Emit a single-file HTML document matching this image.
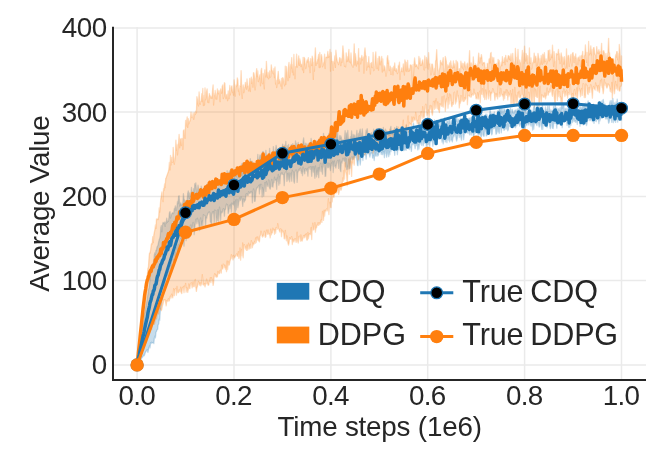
<!DOCTYPE html>
<html><head><meta charset="utf-8"><title>Average Value</title>
<style>
html,body{margin:0;padding:0;background:#fff;}
svg{display:block;}
text{font-family:"Liberation Sans",Arial,Helvetica,sans-serif;fill:#262626;}
.tick{font-size:27.78px;}
.lab{font-size:27.78px;}
.leg{font-size:30.56px;}
</style></head><body>
<svg width="646" height="456" viewBox="0 0 646 456">
<rect width="646" height="456" fill="#fff"/>
<defs><clipPath id="c"><rect x="113" y="27" width="533" height="352"/></clipPath></defs>

<g stroke="#eaeaea" stroke-width="1.5" fill="none">
<path d="M113,364.9H646"/>
<path d="M113,280.6H646"/>
<path d="M113,196.4H646"/>
<path d="M113,112.1H646"/>
<path d="M113,27.9H646"/>
<path d="M137.1,27V379"/>
<path d="M234.0,27V379"/>
<path d="M330.9,27V379"/>
<path d="M427.7,27V379"/>
<path d="M524.6,27V379"/>
<path d="M621.5,27V379"/>
</g>
<g clip-path="url(#c)" stroke-linejoin="round">
<path d="M137.1,364.9L137.6,361.3L138.2,357.8L138.7,354.4L139.3,350.9L139.8,347.0L140.3,343.8L140.9,339.2L141.4,336.2L141.9,332.6L142.5,329.9L143.0,325.9L143.6,321.5L144.1,319.4L144.6,313.6L145.2,311.7L145.7,307.4L146.3,304.8L146.8,301.5L147.3,297.8L147.9,294.8L148.4,290.0L149.0,287.9L149.5,284.2L150.0,278.6L150.6,274.2L151.1,270.7L151.6,271.2L152.2,265.1L152.7,265.7L153.3,263.1L153.8,260.2L154.3,255.2L154.9,252.7L155.4,254.7L156.0,250.1L156.5,250.1L157.0,247.0L157.6,246.0L158.1,244.8L158.7,241.7L159.2,239.7L159.7,238.6L160.3,235.3L160.8,227.5L161.3,225.6L161.9,231.8L162.4,225.7L163.0,222.5L163.5,222.8L164.0,223.5L164.6,222.1L165.1,226.3L165.7,222.1L166.2,223.5L166.7,218.2L167.3,222.3L167.8,221.1L168.4,221.4L168.9,218.2L169.4,213.1L170.0,211.6L170.5,218.0L171.0,216.1L171.6,214.4L172.1,213.2L172.7,212.7L173.2,213.6L173.7,213.5L174.3,208.8L174.8,208.4L175.4,205.9L175.9,210.4L176.4,209.8L177.0,206.3L177.5,201.4L178.1,203.6L178.6,196.3L179.1,195.7L179.7,206.0L180.2,203.6L180.7,202.9L181.3,205.7L181.8,204.3L182.4,204.4L182.9,202.2L183.4,193.7L184.0,199.1L184.5,200.3L185.1,202.3L185.6,202.2L186.1,200.5L186.7,202.2L187.2,199.5L187.7,193.5L188.3,191.0L188.8,195.8L189.4,198.4L189.9,192.9L190.4,196.7L191.0,193.9L191.5,187.3L192.1,194.6L192.6,195.4L193.1,194.7L193.7,188.7L194.2,194.3L194.8,183.7L195.3,185.4L195.8,182.8L196.4,190.1L196.9,193.2L197.4,192.9L198.0,185.2L198.5,189.2L199.1,192.5L199.6,192.1L200.1,189.5L200.7,192.5L201.2,186.1L201.8,189.1L202.3,192.3L202.8,190.7L203.4,188.1L203.9,189.4L204.5,190.2L205.0,190.1L205.5,186.7L206.1,191.1L206.6,184.3L207.1,184.9L207.7,190.4L208.2,183.1L208.8,188.6L209.3,187.3L209.8,184.9L210.4,189.9L210.9,185.1L211.5,184.0L212.0,186.9L212.5,188.3L213.1,186.8L213.6,188.2L214.2,188.2L214.7,185.8L215.2,187.1L215.8,187.4L216.3,185.6L216.8,182.2L217.4,183.6L217.9,182.9L218.5,184.7L219.0,182.3L219.5,180.4L220.1,185.1L220.6,184.0L221.2,183.6L221.7,180.1L222.2,181.4L222.8,182.7L223.3,181.8L223.9,182.9L224.4,178.1L224.9,182.5L225.5,179.4L226.0,181.7L226.5,182.5L227.1,170.7L227.6,176.8L228.2,173.4L228.7,181.6L229.2,171.8L229.8,170.7L230.3,180.0L230.9,169.3L231.4,180.7L231.9,174.4L232.5,179.1L233.0,179.2L233.5,178.8L234.1,177.3L234.6,171.2L235.2,175.0L235.7,176.6L236.2,173.9L236.8,174.5L237.3,178.0L237.9,177.5L238.4,172.9L238.9,177.4L239.5,176.8L240.0,174.3L240.6,170.8L241.1,175.3L241.6,163.8L242.2,175.2L242.7,163.2L243.2,173.8L243.8,165.1L244.3,173.9L244.9,168.4L245.4,167.9L245.9,165.6L246.5,171.2L247.0,170.3L247.6,169.6L248.1,171.1L248.6,169.8L249.2,168.4L249.7,168.1L250.3,158.7L250.8,168.5L251.3,161.1L251.9,165.5L252.4,161.4L252.9,164.8L253.5,168.6L254.0,168.2L254.6,167.4L255.1,163.5L255.6,166.3L256.2,167.1L256.7,164.8L257.3,166.5L257.8,154.3L258.3,165.3L258.9,165.5L259.4,158.5L260.0,154.9L260.5,155.4L261.0,160.7L261.6,154.4L262.1,153.6L262.6,151.9L263.2,151.6L263.7,162.6L264.3,157.1L264.8,162.2L265.3,160.8L265.9,150.3L266.4,155.8L267.0,158.6L267.5,161.0L268.0,159.7L268.6,159.3L269.1,159.8L269.6,148.4L270.2,159.5L270.7,157.0L271.3,158.2L271.8,154.2L272.3,157.3L272.9,156.6L273.4,146.6L274.0,154.1L274.5,152.0L275.0,156.7L275.6,150.2L276.1,145.3L276.7,150.3L277.2,153.3L277.7,149.4L278.3,154.6L278.8,153.6L279.3,148.5L279.9,155.5L280.4,153.1L281.0,152.9L281.5,150.6L282.0,153.0L282.6,144.2L283.1,145.9L283.7,152.8L284.2,152.2L284.7,145.2L285.3,152.6L285.8,141.4L286.4,150.6L286.9,150.4L287.4,145.6L288.0,150.1L288.5,144.4L289.0,149.5L289.6,150.9L290.1,148.0L290.7,149.5L291.2,144.8L291.7,144.7L292.3,147.4L292.8,143.6L293.4,151.3L293.9,147.5L294.4,147.8L295.0,150.5L295.5,140.8L296.1,148.1L296.6,143.4L297.1,149.3L297.7,149.8L298.2,142.4L298.7,148.9L299.3,145.6L299.8,147.4L300.4,146.7L300.9,144.3L301.4,147.9L302.0,146.3L302.5,149.3L303.1,142.1L303.6,138.0L304.1,143.7L304.7,148.2L305.2,146.7L305.8,143.1L306.3,148.2L306.8,144.1L307.4,146.8L307.9,146.1L308.4,143.5L309.0,144.5L309.5,147.5L310.1,146.9L310.6,145.8L311.1,138.5L311.7,145.6L312.2,145.4L312.8,145.1L313.3,147.1L313.8,144.4L314.4,141.5L314.9,141.3L315.4,143.9L316.0,145.6L316.5,140.9L317.1,143.0L317.6,143.1L318.1,140.4L318.7,144.8L319.2,139.2L319.8,142.3L320.3,142.4L320.8,143.0L321.4,145.3L321.9,140.6L322.5,144.5L323.0,142.3L323.5,133.4L324.1,143.0L324.6,138.8L325.1,144.7L325.7,140.9L326.2,138.8L326.8,142.9L327.3,138.8L327.8,141.1L328.4,144.0L328.9,133.3L329.5,137.9L330.0,143.3L330.5,143.7L331.1,138.3L331.6,143.7L332.2,135.7L332.7,143.0L333.2,143.4L333.8,142.5L334.3,143.1L334.8,142.2L335.4,139.2L335.9,137.8L336.5,131.5L337.0,138.2L337.5,131.4L338.1,139.9L338.6,142.0L339.2,142.7L339.7,135.5L340.2,138.8L340.8,136.0L341.3,137.4L341.9,142.2L342.4,139.8L342.9,141.7L343.5,139.9L344.0,140.0L344.5,140.1L345.1,130.6L345.6,141.2L346.2,134.4L346.7,132.9L347.2,140.7L347.8,130.3L348.3,138.0L348.9,138.9L349.4,140.5L349.9,140.8L350.5,136.6L351.0,140.2L351.6,131.0L352.1,138.4L352.6,137.1L353.2,134.4L353.7,136.7L354.2,138.0L354.8,134.8L355.3,137.9L355.9,138.9L356.4,137.3L356.9,130.5L357.5,138.9L358.0,137.1L358.6,133.5L359.1,138.8L359.6,131.6L360.2,129.2L360.7,138.1L361.2,137.0L361.8,133.7L362.3,129.0L362.9,137.6L363.4,136.4L363.9,138.0L364.5,138.6L365.0,135.9L365.6,135.9L366.1,130.1L366.6,132.2L367.2,128.7L367.7,133.4L368.3,135.9L368.8,137.7L369.3,137.9L369.9,136.0L370.4,133.7L370.9,134.5L371.5,132.7L372.0,135.7L372.6,135.0L373.1,135.6L373.6,129.2L374.2,133.6L374.7,137.0L375.3,136.9L375.8,137.1L376.3,134.3L376.9,128.7L377.4,136.5L378.0,133.8L378.5,128.9L379.0,136.3L379.6,136.1L380.1,135.8L380.6,136.2L381.2,135.4L381.7,134.5L382.3,130.9L382.8,134.9L383.3,127.3L383.9,134.7L384.4,133.9L385.0,131.8L385.5,129.2L386.0,133.7L386.6,130.9L387.1,134.1L387.7,134.0L388.2,134.6L388.7,134.5L389.3,135.1L389.8,133.1L390.3,129.1L390.9,126.4L391.4,133.6L392.0,134.5L392.5,131.5L393.0,130.8L393.6,134.7L394.1,133.8L394.7,127.7L395.2,132.7L395.7,133.9L396.3,132.6L396.8,126.3L397.4,133.8L397.9,132.6L398.4,130.3L399.0,132.6L399.5,132.2L400.0,128.9L400.6,130.7L401.1,132.5L401.7,133.4L402.2,131.6L402.7,130.7L403.3,130.7L403.8,128.5L404.4,131.0L404.9,130.7L405.4,131.9L406.0,131.0L406.5,125.2L407.0,132.6L407.6,130.0L408.1,131.4L408.7,130.2L409.2,132.4L409.7,129.2L410.3,132.6L410.8,128.1L411.4,130.9L411.9,132.3L412.4,132.0L413.0,125.7L413.5,123.5L414.1,128.3L414.6,130.8L415.1,130.4L415.7,131.3L416.2,128.1L416.7,128.6L417.3,131.6L417.8,131.3L418.4,128.6L418.9,122.7L419.4,130.3L420.0,131.2L420.5,130.6L421.1,126.9L421.6,130.8L422.1,129.4L422.7,128.9L423.2,128.2L423.8,130.4L424.3,129.0L424.8,129.8L425.4,129.5L425.9,123.1L426.4,121.7L427.0,122.8L427.5,121.5L428.1,123.9L428.6,127.1L429.1,128.1L429.7,125.6L430.2,125.8L430.8,122.7L431.3,128.6L431.8,120.6L432.4,128.3L432.9,123.7L433.5,123.8L434.0,125.3L434.5,120.0L435.1,126.5L435.6,128.5L436.1,122.7L436.7,123.6L437.2,120.2L437.8,128.0L438.3,125.5L438.8,127.4L439.4,120.9L439.9,126.5L440.5,126.8L441.0,118.6L441.5,127.0L442.1,121.8L442.6,119.9L443.2,119.4L443.7,126.7L444.2,123.7L444.8,117.7L445.3,126.2L445.8,125.8L446.4,125.2L446.9,121.2L447.5,121.3L448.0,122.9L448.5,123.7L449.1,118.5L449.6,121.5L450.2,125.2L450.7,124.4L451.2,120.1L451.8,124.9L452.3,122.8L452.8,124.5L453.4,124.6L453.9,122.8L454.5,121.9L455.0,123.2L455.5,122.1L456.1,120.5L456.6,115.3L457.2,121.5L457.7,121.9L458.2,119.1L458.8,122.9L459.3,122.6L459.9,122.0L460.4,118.2L460.9,121.0L461.5,120.0L462.0,121.6L462.5,122.4L463.1,118.4L463.6,117.7L464.2,121.8L464.7,121.0L465.2,113.9L465.8,120.9L466.3,119.8L466.9,122.0L467.4,120.8L467.9,118.6L468.5,121.9L469.0,118.2L469.6,118.1L470.1,121.6L470.6,118.4L471.2,117.4L471.7,121.5L472.2,121.1L472.8,120.2L473.3,117.0L473.9,119.4L474.4,119.8L474.9,120.9L475.5,119.5L476.0,117.0L476.6,119.2L477.1,120.6L477.6,116.1L478.2,116.0L478.7,118.4L479.3,119.6L479.8,115.2L480.3,117.1L480.9,114.1L481.4,117.3L481.9,113.9L482.5,119.6L483.0,116.6L483.6,118.8L484.1,115.5L484.6,118.6L485.2,115.9L485.7,114.1L486.3,117.2L486.8,114.2L487.3,116.7L487.9,118.6L488.4,117.5L489.0,116.1L489.5,116.4L490.0,109.7L490.6,112.1L491.1,116.7L491.6,113.6L492.2,114.0L492.7,113.4L493.3,115.2L493.8,117.3L494.3,111.8L494.9,117.1L495.4,117.0L496.0,115.2L496.5,116.8L497.0,116.2L497.6,111.2L498.1,110.4L498.6,114.2L499.2,108.1L499.7,108.0L500.3,111.4L500.8,107.8L501.3,113.7L501.9,107.6L502.4,111.4L503.0,114.7L503.5,112.7L504.0,108.9L504.6,109.9L505.1,110.0L505.7,113.1L506.2,113.3L506.7,111.4L507.3,112.0L507.8,113.9L508.3,110.6L508.9,110.7L509.4,114.3L510.0,111.2L510.5,108.5L511.0,114.2L511.6,113.5L512.1,109.3L512.7,110.4L513.2,113.1L513.7,112.8L514.3,113.0L514.8,110.5L515.4,110.4L515.9,109.9L516.4,111.9L517.0,111.6L517.5,108.8L518.0,111.2L518.6,108.6L519.1,110.7L519.7,105.6L520.2,110.4L520.7,110.8L521.3,111.2L521.8,105.1L522.4,113.1L522.9,105.9L523.4,110.9L524.0,112.3L524.5,111.6L525.1,105.5L525.6,105.4L526.1,113.4L526.7,112.6L527.2,113.6L527.7,113.8L528.3,113.3L528.8,109.5L529.4,107.0L529.9,112.7L530.4,113.5L531.0,111.5L531.5,110.3L532.1,113.4L532.6,113.1L533.1,111.6L533.7,107.2L534.2,106.3L534.7,105.6L535.3,113.4L535.8,111.0L536.4,112.2L536.9,104.7L537.4,107.2L538.0,104.6L538.5,108.7L539.1,112.1L539.6,107.0L540.1,108.3L540.7,110.1L541.2,111.1L541.8,111.5L542.3,105.2L542.8,108.2L543.4,112.6L543.9,112.8L544.4,111.4L545.0,111.1L545.5,107.0L546.1,111.7L546.6,109.7L547.1,112.2L547.7,106.2L548.2,111.5L548.8,111.1L549.3,105.9L549.8,112.0L550.4,112.1L550.9,109.8L551.5,111.4L552.0,111.5L552.5,112.1L553.1,111.6L553.6,106.2L554.1,107.6L554.7,110.7L555.2,103.9L555.8,110.6L556.3,110.3L556.8,107.8L557.4,110.5L557.9,110.6L558.5,108.7L559.0,109.9L559.5,110.2L560.1,107.7L560.6,111.5L561.2,108.4L561.7,104.1L562.2,108.5L562.8,103.8L563.3,104.0L563.8,105.0L564.4,111.5L564.9,109.8L565.5,108.4L566.0,110.7L566.5,110.7L567.1,108.2L567.6,111.2L568.2,111.1L568.7,107.4L569.2,104.6L569.8,108.7L570.3,110.8L570.9,102.5L571.4,107.2L571.9,102.4L572.5,109.7L573.0,108.4L573.5,108.7L574.1,103.4L574.6,108.0L575.2,102.1L575.7,104.1L576.2,110.5L576.8,102.1L577.3,101.9L577.9,109.6L578.4,110.1L578.9,109.5L579.5,109.9L580.0,105.4L580.5,108.5L581.1,109.8L581.6,108.3L582.2,106.0L582.7,108.6L583.2,108.9L583.8,103.9L584.3,103.6L584.9,107.7L585.4,109.6L585.9,103.0L586.5,109.4L587.0,108.5L587.6,103.5L588.1,100.8L588.6,105.8L589.2,107.3L589.7,107.3L590.2,108.0L590.8,104.6L591.3,106.8L591.9,107.6L592.4,107.5L592.9,104.8L593.5,104.1L594.0,107.1L594.6,108.7L595.1,108.2L595.6,107.4L596.2,106.1L596.7,104.9L597.3,106.8L597.8,105.1L598.3,107.0L598.9,107.2L599.4,101.8L599.9,108.1L600.5,107.5L601.0,101.6L601.6,107.5L602.1,100.7L602.6,106.3L603.2,99.3L603.7,102.7L604.3,106.3L604.8,107.0L605.3,104.2L605.9,107.6L606.4,106.2L607.0,106.5L607.5,107.0L608.0,105.9L608.6,106.6L609.1,107.4L609.6,103.5L610.2,100.8L610.7,106.1L611.3,100.5L611.8,103.3L612.3,106.8L612.9,98.4L613.4,104.5L614.0,106.0L614.5,102.9L615.0,106.6L615.6,105.0L616.1,101.8L616.7,106.1L617.2,99.1L617.7,105.9L618.3,105.6L618.8,105.4L619.3,105.8L619.9,104.6L620.4,106.1L621.0,104.1L621.5,102.7L621.5,120.2L621.0,120.4L620.4,113.8L619.9,117.1L619.3,120.2L618.8,116.7L618.3,113.5L617.7,122.2L617.2,115.1L616.7,118.0L616.1,114.3L615.6,122.4L615.0,115.1L614.5,120.8L614.0,115.2L613.4,122.6L612.9,115.1L612.3,117.7L611.8,122.4L611.3,117.0L610.7,115.0L610.2,117.2L609.6,119.7L609.1,122.5L608.6,123.2L608.0,118.7L607.5,119.1L607.0,115.1L606.4,118.7L605.9,119.1L605.3,117.6L604.8,115.4L604.3,116.9L603.7,115.3L603.2,115.1L602.6,116.3L602.1,116.8L601.6,118.4L601.0,116.1L600.5,118.2L599.9,120.8L599.4,116.9L598.9,123.6L598.3,115.9L597.8,119.7L597.3,118.1L596.7,117.0L596.2,121.6L595.6,119.8L595.1,120.8L594.6,118.2L594.0,123.3L593.5,119.2L592.9,120.2L592.4,121.7L591.9,116.6L591.3,117.3L590.8,120.5L590.2,119.4L589.7,118.0L589.2,120.5L588.6,117.5L588.1,118.4L587.6,116.9L587.0,123.9L586.5,125.6L585.9,118.2L585.4,123.7L584.9,120.6L584.3,122.5L583.8,121.9L583.2,125.0L582.7,121.6L582.2,121.3L581.6,117.4L581.1,119.8L580.5,117.9L580.0,126.3L579.5,119.0L578.9,120.2L578.4,120.9L577.9,117.9L577.3,124.5L576.8,118.7L576.2,122.2L575.7,122.3L575.2,120.5L574.6,121.6L574.1,118.4L573.5,121.1L573.0,119.0L572.5,122.7L571.9,120.1L571.4,119.0L570.9,125.3L570.3,119.0L569.8,127.3L569.2,120.5L568.7,127.3L568.2,119.3L567.6,119.0L567.1,125.5L566.5,119.0L566.0,121.4L565.5,120.2L564.9,121.4L564.4,119.3L563.8,119.5L563.3,121.2L562.8,120.4L562.2,127.7L561.7,122.7L561.2,121.3L560.6,119.4L560.1,119.2L559.5,119.9L559.0,121.0L558.5,121.6L557.9,120.7L557.4,119.6L556.8,128.2L556.3,122.2L555.8,120.6L555.2,123.4L554.7,119.7L554.1,123.4L553.6,124.1L553.1,128.5L552.5,128.2L552.0,120.9L551.5,120.3L550.9,125.6L550.4,128.7L549.8,126.7L549.3,123.7L548.8,120.2L548.2,123.2L547.7,120.2L547.1,127.6L546.6,120.3L546.1,121.5L545.5,124.2L545.0,125.3L544.4,122.7L543.9,120.5L543.4,121.5L542.8,129.3L542.3,122.0L541.8,129.3L541.2,125.1L540.7,121.4L540.1,121.1L539.6,126.3L539.1,127.0L538.5,123.2L538.0,121.9L537.4,122.2L536.9,125.6L536.4,123.4L535.8,123.7L535.3,122.7L534.7,122.1L534.2,124.7L533.7,129.1L533.1,122.6L532.6,130.0L532.1,121.3L531.5,123.8L531.0,126.0L530.4,123.3L529.9,122.6L529.4,122.2L528.8,125.0L528.3,123.7L527.7,123.4L527.2,123.0L526.7,125.6L526.1,124.6L525.6,123.8L525.1,128.7L524.5,122.4L524.0,128.7L523.4,123.1L522.9,123.5L522.4,121.7L521.8,127.9L521.3,124.7L520.7,124.6L520.2,123.9L519.7,126.1L519.1,122.3L518.6,124.2L518.0,122.4L517.5,121.8L517.0,125.5L516.4,124.0L515.9,126.8L515.4,127.7L514.8,125.3L514.3,122.8L513.7,127.4L513.2,124.1L512.7,127.7L512.1,124.6L511.6,123.9L511.0,123.3L510.5,125.1L510.0,126.5L509.4,123.6L508.9,124.1L508.3,129.5L507.8,130.9L507.3,123.9L506.7,125.1L506.2,129.1L505.7,128.2L505.1,124.7L504.6,129.5L504.0,130.3L503.5,126.4L503.0,124.7L502.4,127.8L501.9,124.3L501.3,132.8L500.8,126.8L500.3,128.5L499.7,126.2L499.2,133.4L498.6,131.4L498.1,126.4L497.6,131.8L497.0,126.2L496.5,133.9L496.0,134.0L495.4,127.7L494.9,128.5L494.3,127.5L493.8,127.6L493.3,128.7L492.7,126.3L492.2,133.9L491.6,134.8L491.1,128.8L490.6,129.3L490.0,127.0L489.5,127.5L489.0,131.8L488.4,126.8L487.9,129.1L487.3,133.9L486.8,135.7L486.3,135.8L485.7,128.9L485.2,131.1L484.6,128.9L484.1,136.1L483.6,136.2L483.0,134.6L482.5,128.3L481.9,131.4L481.4,136.6L480.9,136.7L480.3,132.6L479.8,131.2L479.3,134.7L478.7,129.4L478.2,135.5L477.6,129.5L477.1,130.4L476.6,130.8L476.0,132.3L475.5,133.1L474.9,129.9L474.4,131.8L473.9,137.2L473.3,135.6L472.8,130.9L472.2,133.3L471.7,130.5L471.2,135.0L470.6,131.3L470.1,130.1L469.6,134.9L469.0,132.1L468.5,130.8L467.9,133.2L467.4,132.8L466.9,130.6L466.3,132.2L465.8,133.0L465.2,133.2L464.7,132.6L464.2,134.6L463.6,139.7L463.1,132.5L462.5,133.4L462.0,132.1L461.5,140.2L460.9,137.6L460.4,135.2L459.9,131.9L459.3,137.5L458.8,132.4L458.2,135.0L457.7,133.2L457.2,138.8L456.6,141.0L456.1,138.3L455.5,134.1L455.0,134.4L454.5,134.0L453.9,136.5L453.4,136.0L452.8,138.5L452.3,141.8L451.8,139.6L451.2,140.2L450.7,134.8L450.2,136.0L449.6,141.9L449.1,137.8L448.5,140.0L448.0,135.1L447.5,135.5L446.9,142.7L446.4,135.6L445.8,135.9L445.3,141.9L444.8,138.3L444.2,135.6L443.7,135.5L443.2,143.9L442.6,139.0L442.1,142.2L441.5,137.7L441.0,137.8L440.5,135.9L439.9,138.2L439.4,136.9L438.8,139.3L438.3,137.3L437.8,139.3L437.2,139.4L436.7,136.8L436.1,140.4L435.6,141.7L435.1,137.7L434.5,140.9L434.0,139.0L433.5,140.8L432.9,146.3L432.4,141.5L431.8,139.2L431.3,140.7L430.8,141.7L430.2,139.5L429.7,146.4L429.1,140.6L428.6,140.3L428.1,144.3L427.5,139.4L427.0,143.7L426.4,147.8L425.9,139.8L425.4,142.2L424.8,143.2L424.3,139.9L423.8,140.4L423.2,145.7L422.7,141.1L422.1,140.6L421.6,145.3L421.1,140.4L420.5,141.8L420.0,144.1L419.4,144.2L418.9,148.9L418.4,144.5L417.8,149.9L417.3,143.0L416.7,145.7L416.2,142.7L415.7,142.7L415.1,148.7L414.6,144.8L414.1,142.9L413.5,142.6L413.0,144.9L412.4,144.3L411.9,144.3L411.4,151.4L410.8,147.7L410.3,147.2L409.7,146.8L409.2,149.5L408.7,146.9L408.1,144.4L407.6,143.9L407.0,144.7L406.5,145.4L406.0,150.4L405.4,148.5L404.9,144.3L404.4,150.0L403.8,150.6L403.3,144.7L402.7,144.9L402.2,148.9L401.7,149.4L401.1,145.8L400.6,149.8L400.0,149.0L399.5,146.8L399.0,150.1L398.4,150.0L397.9,146.7L397.4,154.7L396.8,147.7L396.3,146.3L395.7,146.9L395.2,149.0L394.7,155.3L394.1,148.5L393.6,148.2L393.0,150.0L392.5,149.4L392.0,149.0L391.4,149.3L390.9,151.7L390.3,148.7L389.8,154.6L389.3,152.1L388.7,156.7L388.2,148.2L387.7,151.7L387.1,154.7L386.6,157.2L386.0,148.6L385.5,153.3L385.0,149.8L384.4,157.7L383.9,151.4L383.3,154.2L382.8,150.6L382.3,154.7L381.7,152.6L381.2,154.3L380.6,150.2L380.1,151.1L379.6,150.2L379.0,150.8L378.5,154.7L378.0,155.8L377.4,153.9L376.9,156.2L376.3,151.0L375.8,155.6L375.3,156.1L374.7,151.3L374.2,160.5L373.6,155.1L373.1,158.1L372.6,158.0L372.0,152.4L371.5,153.4L370.9,152.9L370.4,154.5L369.9,157.0L369.3,154.6L368.8,152.9L368.3,152.9L367.7,153.8L367.2,152.8L366.6,153.2L366.1,159.2L365.6,153.4L365.0,154.7L364.5,154.7L363.9,155.3L363.4,154.3L362.9,160.5L362.3,154.0L361.8,154.4L361.2,155.0L360.7,160.2L360.2,165.0L359.6,158.9L359.1,154.9L358.6,155.6L358.0,165.7L357.5,165.2L356.9,160.4L356.4,157.7L355.9,155.3L355.3,156.3L354.8,157.6L354.2,155.4L353.7,159.0L353.2,157.0L352.6,159.5L352.1,156.9L351.6,157.1L351.0,158.8L350.5,160.8L349.9,168.5L349.4,168.6L348.9,158.9L348.3,164.4L347.8,169.2L347.2,166.2L346.7,169.6L346.2,158.7L345.6,166.9L345.1,157.7L344.5,161.4L344.0,160.9L343.5,158.9L342.9,158.3L342.4,160.4L341.9,163.1L341.3,162.1L340.8,171.7L340.2,169.5L339.7,159.8L339.2,162.7L338.6,168.4L338.1,160.2L337.5,160.7L337.0,162.3L336.5,163.7L335.9,168.0L335.4,166.0L334.8,166.1L334.3,160.9L333.8,164.2L333.2,172.5L332.7,161.1L332.2,165.8L331.6,163.0L331.1,164.0L330.5,170.7L330.0,168.1L329.5,165.6L328.9,163.2L328.4,167.5L327.8,167.8L327.3,164.4L326.8,162.6L326.2,168.0L325.7,176.2L325.1,176.3L324.6,164.4L324.1,162.8L323.5,166.9L323.0,163.1L322.5,174.2L321.9,166.6L321.4,171.6L320.8,163.2L320.3,164.2L319.8,171.2L319.2,167.6L318.7,177.6L318.1,167.7L317.6,174.4L317.1,170.9L316.5,176.9L316.0,169.8L315.4,166.0L314.9,178.3L314.4,172.7L313.8,166.6L313.3,172.0L312.8,170.4L312.2,166.7L311.7,176.3L311.1,167.1L310.6,166.8L310.1,169.3L309.5,167.2L309.0,167.6L308.4,167.5L307.9,176.1L307.4,168.9L306.8,169.6L306.3,170.9L305.8,168.6L305.2,168.9L304.7,173.8L304.1,170.8L303.6,169.0L303.1,167.1L302.5,175.6L302.0,171.2L301.4,173.3L300.9,169.2L300.4,168.0L299.8,170.6L299.3,169.1L298.7,170.0L298.2,171.4L297.7,172.7L297.1,182.4L296.6,171.1L296.1,170.0L295.5,170.6L295.0,172.1L294.4,183.1L293.9,181.6L293.4,172.2L292.8,172.0L292.3,170.2L291.7,181.2L291.2,173.0L290.7,174.1L290.1,176.4L289.6,181.8L289.0,172.9L288.5,176.4L288.0,180.0L287.4,173.5L286.9,181.4L286.4,171.0L285.8,171.8L285.3,172.4L284.7,174.6L284.2,185.7L283.7,175.1L283.1,174.5L282.6,174.2L282.0,172.8L281.5,174.1L281.0,173.3L280.4,175.8L279.9,183.7L279.3,176.5L278.8,185.1L278.3,174.4L277.7,181.4L277.2,178.0L276.7,189.3L276.1,179.5L275.6,180.1L275.0,180.4L274.5,177.2L274.0,182.6L273.4,182.6L272.9,187.1L272.3,186.6L271.8,179.5L271.3,181.4L270.7,186.6L270.2,189.1L269.6,188.0L269.1,181.1L268.6,180.0L268.0,186.6L267.5,184.3L267.0,185.9L266.4,181.3L265.9,191.4L265.3,182.6L264.8,182.7L264.3,188.2L263.7,196.2L263.2,191.5L262.6,187.7L262.1,197.0L261.6,184.7L261.0,184.3L260.5,189.0L260.0,184.4L259.4,193.9L258.9,185.4L258.3,186.6L257.8,186.8L257.3,187.9L256.7,188.1L256.2,190.4L255.6,194.9L255.1,201.1L254.6,201.4L254.0,190.8L253.5,188.9L252.9,192.7L252.4,202.8L251.9,193.0L251.3,191.4L250.8,191.6L250.3,192.9L249.7,193.6L249.2,192.6L248.6,191.7L248.1,195.5L247.6,194.0L247.0,195.7L246.5,193.6L245.9,194.6L245.4,200.2L244.9,199.9L244.3,202.0L243.8,198.8L243.2,200.5L242.7,206.4L242.2,199.5L241.6,198.4L241.1,196.8L240.6,199.9L240.0,200.7L239.5,197.9L238.9,200.7L238.4,204.6L237.9,207.7L237.3,199.6L236.8,199.1L236.2,209.9L235.7,199.9L235.2,213.8L234.6,205.6L234.1,201.6L233.5,204.8L233.0,204.4L232.5,204.2L231.9,203.0L231.4,212.0L230.9,204.2L230.3,208.6L229.8,205.1L229.2,207.8L228.7,211.5L228.2,213.4L227.6,204.8L227.1,205.6L226.5,204.0L226.0,206.1L225.5,209.7L224.9,209.2L224.4,216.2L223.9,209.5L223.3,208.7L222.8,210.5L222.2,212.4L221.7,213.0L221.2,211.9L220.6,220.3L220.1,211.1L219.5,207.1L219.0,213.7L218.5,221.3L217.9,209.7L217.4,220.4L216.8,217.2L216.3,222.3L215.8,210.3L215.2,211.0L214.7,210.1L214.2,223.4L213.6,211.3L213.1,213.7L212.5,211.8L212.0,213.9L211.5,224.7L210.9,222.4L210.4,222.0L209.8,212.9L209.3,211.9L208.8,212.2L208.2,213.0L207.7,214.3L207.1,216.1L206.6,218.5L206.1,217.7L205.5,226.8L205.0,215.9L204.5,215.3L203.9,215.6L203.4,214.8L202.8,225.7L202.3,220.8L201.8,224.8L201.2,225.9L200.7,218.0L200.1,220.2L199.6,230.5L199.1,225.7L198.5,222.1L198.0,220.2L197.4,218.2L196.9,223.8L196.4,219.1L195.8,219.6L195.3,222.9L194.8,227.6L194.2,234.7L193.7,224.1L193.1,222.4L192.6,226.4L192.1,228.1L191.5,230.2L191.0,224.9L190.4,225.9L189.9,227.8L189.4,227.2L188.8,238.0L188.3,228.0L187.7,232.2L187.2,233.5L186.7,228.5L186.1,240.7L185.6,232.9L185.1,231.5L184.5,231.3L184.0,246.2L183.4,235.8L182.9,243.5L182.4,241.7L181.8,237.8L181.3,240.2L180.7,238.4L180.2,239.9L179.7,242.3L179.1,244.5L178.6,249.8L178.1,244.6L177.5,252.1L177.0,252.3L176.4,247.7L175.9,253.0L175.4,258.7L174.8,252.9L174.3,258.0L173.7,265.7L173.2,259.7L172.7,259.6L172.1,261.5L171.6,272.3L171.0,271.7L170.5,265.7L170.0,266.7L169.4,269.2L168.9,274.2L168.4,271.6L167.8,275.2L167.3,276.2L166.7,275.1L166.2,277.2L165.7,280.2L165.1,284.0L164.6,290.1L164.0,290.7L163.5,294.6L163.0,294.7L162.4,300.1L161.9,299.4L161.3,304.6L160.8,307.2L160.3,310.9L159.7,320.5L159.2,319.0L158.7,324.0L158.1,324.9L157.6,329.5L157.0,329.8L156.5,331.4L156.0,332.3L155.4,337.9L154.9,336.1L154.3,338.5L153.8,343.6L153.3,342.5L152.7,342.9L152.2,342.9L151.6,342.3L151.1,343.6L150.6,342.7L150.0,347.8L149.5,345.9L149.0,347.4L148.4,349.9L147.9,352.4L147.3,349.3L146.8,350.6L146.3,351.0L145.7,351.7L145.2,352.9L144.6,354.7L144.1,355.8L143.6,355.3L143.0,356.4L142.5,357.2L141.9,357.6L141.4,359.1L140.9,359.3L140.3,360.1L139.8,361.8L139.3,362.4L138.7,362.7L138.2,363.4L137.6,364.2L137.1,364.9Z" fill="#1f77b4" fill-opacity=".25" stroke="#1f77b4" stroke-opacity=".25" stroke-width="1.3"/>
<path d="M137.1,364.9L137.6,360.1L138.2,355.7L138.7,350.0L139.3,346.2L139.8,340.9L140.3,336.1L140.9,330.4L141.4,327.1L141.9,320.9L142.5,318.0L143.0,311.0L143.6,308.6L144.1,303.4L144.6,295.2L145.2,292.8L145.7,288.3L146.3,279.6L146.8,278.3L147.3,275.9L147.9,268.0L148.4,267.8L149.0,257.9L149.5,253.0L150.0,253.1L150.6,250.2L151.1,245.5L151.6,243.5L152.2,244.0L152.7,236.7L153.3,242.7L153.8,235.0L154.3,232.5L154.9,229.6L155.4,225.0L156.0,228.4L156.5,218.9L157.0,219.5L157.6,219.0L158.1,219.6L158.7,216.7L159.2,208.0L159.7,212.1L160.3,205.4L160.8,198.6L161.3,196.7L161.9,192.0L162.4,199.4L163.0,201.7L163.5,188.6L164.0,190.4L164.6,183.9L165.1,187.7L165.7,178.4L166.2,177.8L166.7,176.1L167.3,174.8L167.8,173.0L168.4,171.4L168.9,169.0L169.4,162.4L170.0,169.9L170.5,155.4L171.0,165.0L171.6,157.3L172.1,162.3L172.7,162.0L173.2,147.3L173.7,159.8L174.3,164.2L174.8,159.6L175.4,156.0L175.9,140.1L176.4,150.3L177.0,144.8L177.5,154.9L178.1,145.6L178.6,142.3L179.1,134.4L179.7,147.8L180.2,138.8L180.7,139.2L181.3,145.7L181.8,138.5L182.4,138.6L182.9,149.4L183.4,130.8L184.0,129.9L184.5,134.3L185.1,138.3L185.6,120.3L186.1,126.2L186.7,120.4L187.2,116.9L187.7,127.4L188.3,118.6L188.8,123.9L189.4,121.9L189.9,121.1L190.4,119.6L191.0,112.1L191.5,117.0L192.1,117.7L192.6,117.5L193.1,112.9L193.7,119.3L194.2,116.0L194.8,112.4L195.3,114.5L195.8,111.0L196.4,112.9L196.9,96.6L197.4,99.6L198.0,103.9L198.5,105.9L199.1,92.0L199.6,102.4L200.1,104.3L200.7,101.4L201.2,100.8L201.8,93.7L202.3,101.6L202.8,88.5L203.4,105.5L203.9,95.6L204.5,105.0L205.0,87.8L205.5,99.9L206.1,97.7L206.6,91.4L207.1,88.8L207.7,102.2L208.2,97.1L208.8,102.7L209.3,93.6L209.8,94.9L210.4,96.2L210.9,98.1L211.5,96.3L212.0,98.3L212.5,90.7L213.1,84.8L213.6,105.0L214.2,94.2L214.7,95.9L215.2,90.5L215.8,98.9L216.3,94.1L216.8,99.2L217.4,88.9L217.9,92.3L218.5,93.8L219.0,90.6L219.5,94.1L220.1,101.7L220.6,89.0L221.2,90.7L221.7,93.2L222.2,86.4L222.8,84.9L223.3,98.5L223.9,96.5L224.4,82.7L224.9,83.4L225.5,96.0L226.0,98.5L226.5,95.2L227.1,94.3L227.6,100.7L228.2,91.0L228.7,98.7L229.2,98.2L229.8,85.5L230.3,94.9L230.9,91.2L231.4,87.0L231.9,85.8L232.5,92.5L233.0,90.1L233.5,95.2L234.1,79.9L234.6,86.1L235.2,96.2L235.7,89.3L236.2,84.9L236.8,86.0L237.3,77.8L237.9,80.2L238.4,91.2L238.9,88.3L239.5,95.0L240.0,85.7L240.6,86.0L241.1,70.7L241.6,85.8L242.2,98.4L242.7,89.8L243.2,84.9L243.8,92.7L244.3,90.1L244.9,86.9L245.4,82.4L245.9,85.2L246.5,89.1L247.0,79.0L247.6,86.5L248.1,86.0L248.6,90.9L249.2,87.2L249.7,78.4L250.3,91.5L250.8,82.1L251.3,77.2L251.9,83.4L252.4,79.5L252.9,87.2L253.5,72.6L254.0,73.6L254.6,78.4L255.1,89.9L255.6,85.4L256.2,73.2L256.7,68.6L257.3,76.7L257.8,70.8L258.3,81.5L258.9,78.7L259.4,77.3L260.0,74.6L260.5,85.8L261.0,71.0L261.6,68.5L262.1,82.8L262.6,83.7L263.2,73.4L263.7,79.0L264.3,88.9L264.8,69.8L265.3,73.4L265.9,76.9L266.4,61.3L267.0,72.7L267.5,77.7L268.0,72.4L268.6,78.8L269.1,77.3L269.6,71.0L270.2,77.0L270.7,76.8L271.3,64.8L271.8,70.0L272.3,70.9L272.9,72.9L273.4,73.7L274.0,68.4L274.5,77.6L275.0,67.0L275.6,84.0L276.1,80.4L276.7,87.5L277.2,81.8L277.7,77.0L278.3,71.3L278.8,83.6L279.3,79.5L279.9,81.4L280.4,83.5L281.0,86.0L281.5,78.4L282.0,88.8L282.6,77.7L283.1,78.1L283.7,81.9L284.2,83.8L284.7,85.8L285.3,66.1L285.8,84.4L286.4,66.6L286.9,71.6L287.4,76.7L288.0,80.7L288.5,67.1L289.0,62.4L289.6,77.5L290.1,73.1L290.7,64.5L291.2,68.1L291.7,57.6L292.3,72.1L292.8,64.9L293.4,74.9L293.9,54.5L294.4,70.5L295.0,78.8L295.5,66.4L296.1,66.4L296.6,54.2L297.1,67.4L297.7,65.4L298.2,61.8L298.7,55.8L299.3,65.4L299.8,58.9L300.4,61.8L300.9,66.6L301.4,64.3L302.0,64.5L302.5,69.9L303.1,57.3L303.6,72.5L304.1,57.4L304.7,58.6L305.2,64.7L305.8,68.5L306.3,65.3L306.8,61.1L307.4,59.4L307.9,62.0L308.4,57.7L309.0,66.8L309.5,62.0L310.1,72.6L310.6,58.7L311.1,62.2L311.7,65.5L312.2,56.1L312.8,58.8L313.3,79.4L313.8,62.5L314.4,71.2L314.9,56.2L315.4,47.8L316.0,65.4L316.5,61.8L317.1,63.6L317.6,60.0L318.1,58.2L318.7,54.3L319.2,67.6L319.8,52.5L320.3,67.1L320.8,59.9L321.4,54.6L321.9,57.2L322.5,66.8L323.0,65.3L323.5,63.8L324.1,61.3L324.6,54.2L325.1,68.5L325.7,58.0L326.2,57.1L326.8,57.3L327.3,57.7L327.8,51.5L328.4,57.4L328.9,55.2L329.5,56.8L330.0,49.5L330.5,71.2L331.1,52.3L331.6,61.3L332.2,61.2L332.7,65.2L333.2,70.3L333.8,61.4L334.3,63.1L334.8,56.0L335.4,67.4L335.9,50.2L336.5,56.9L337.0,59.8L337.5,62.4L338.1,62.7L338.6,64.6L339.2,61.0L339.7,57.6L340.2,58.5L340.8,65.7L341.3,58.8L341.9,62.4L342.4,56.0L342.9,45.8L343.5,53.0L344.0,58.4L344.5,66.3L345.1,65.2L345.6,66.9L346.2,52.8L346.7,61.7L347.2,56.9L347.8,61.1L348.3,57.0L348.9,49.4L349.4,61.9L349.9,60.0L350.5,62.8L351.0,53.0L351.6,64.4L352.1,65.1L352.6,66.8L353.2,67.0L353.7,56.1L354.2,43.8L354.8,65.0L355.3,53.6L355.9,57.9L356.4,66.0L356.9,61.2L357.5,61.1L358.0,63.9L358.6,48.6L359.1,71.3L359.6,58.0L360.2,58.4L360.7,63.9L361.2,59.7L361.8,55.5L362.3,59.9L362.9,58.5L363.4,57.0L363.9,73.2L364.5,52.6L365.0,48.0L365.6,55.8L366.1,55.8L366.6,70.2L367.2,62.7L367.7,66.9L368.3,65.7L368.8,56.7L369.3,67.2L369.9,63.4L370.4,74.0L370.9,63.8L371.5,62.5L372.0,67.3L372.6,67.6L373.1,52.3L373.6,70.7L374.2,69.9L374.7,68.6L375.3,56.9L375.8,51.8L376.3,62.3L376.9,68.7L377.4,67.1L378.0,58.4L378.5,70.2L379.0,56.4L379.6,56.8L380.1,64.8L380.6,61.6L381.2,61.1L381.7,56.5L382.3,72.0L382.8,59.0L383.3,68.3L383.9,70.8L384.4,65.8L385.0,67.8L385.5,72.5L386.0,76.2L386.6,72.5L387.1,58.5L387.7,55.6L388.2,63.5L388.7,60.5L389.3,70.7L389.8,68.2L390.3,66.2L390.9,74.4L391.4,74.0L392.0,67.7L392.5,70.3L393.0,74.9L393.6,66.4L394.1,70.4L394.7,63.0L395.2,69.2L395.7,71.0L396.3,68.7L396.8,70.6L397.4,73.6L397.9,72.2L398.4,65.5L399.0,66.1L399.5,62.2L400.0,79.5L400.6,71.7L401.1,71.6L401.7,68.0L402.2,71.5L402.7,71.7L403.3,63.8L403.8,67.2L404.4,75.0L404.9,60.0L405.4,61.9L406.0,70.9L406.5,62.5L407.0,71.5L407.6,60.4L408.1,68.1L408.7,71.4L409.2,68.7L409.7,70.8L410.3,65.0L410.8,64.9L411.4,65.5L411.9,68.8L412.4,86.9L413.0,64.6L413.5,76.2L414.1,63.4L414.6,58.0L415.1,62.8L415.7,66.6L416.2,65.1L416.7,64.7L417.3,66.9L417.8,67.0L418.4,68.8L418.9,56.4L419.4,63.7L420.0,58.2L420.5,65.5L421.1,63.8L421.6,65.4L422.1,61.9L422.7,59.9L423.2,63.6L423.8,69.2L424.3,70.0L424.8,55.8L425.4,67.4L425.9,67.7L426.4,57.5L427.0,60.0L427.5,63.4L428.1,69.0L428.6,52.7L429.1,64.3L429.7,63.4L430.2,67.6L430.8,74.9L431.3,74.4L431.8,64.1L432.4,64.2L432.9,67.9L433.5,73.4L434.0,74.9L434.5,68.4L435.1,75.0L435.6,61.1L436.1,59.6L436.7,49.7L437.2,61.1L437.8,69.8L438.3,71.4L438.8,86.6L439.4,69.8L439.9,67.3L440.5,60.5L441.0,62.6L441.5,62.7L442.1,64.9L442.6,62.2L443.2,57.6L443.7,72.4L444.2,68.8L444.8,74.3L445.3,56.5L445.8,58.4L446.4,61.6L446.9,73.1L447.5,64.9L448.0,67.3L448.5,65.5L449.1,67.0L449.6,62.8L450.2,68.2L450.7,60.8L451.2,64.4L451.8,67.5L452.3,66.5L452.8,68.4L453.4,61.0L453.9,67.3L454.5,64.0L455.0,68.0L455.5,74.4L456.1,60.3L456.6,71.9L457.2,61.6L457.7,63.1L458.2,75.4L458.8,71.1L459.3,68.6L459.9,70.4L460.4,72.5L460.9,61.1L461.5,66.9L462.0,63.2L462.5,68.0L463.1,63.6L463.6,69.8L464.2,65.5L464.7,61.9L465.2,65.1L465.8,68.0L466.3,71.7L466.9,64.3L467.4,63.2L467.9,66.8L468.5,69.8L469.0,62.0L469.6,50.6L470.1,67.0L470.6,63.2L471.2,62.9L471.7,80.3L472.2,64.4L472.8,69.3L473.3,56.9L473.9,66.5L474.4,69.6L474.9,66.3L475.5,64.0L476.0,68.3L476.6,65.2L477.1,72.9L477.6,66.1L478.2,60.2L478.7,53.1L479.3,60.5L479.8,63.0L480.3,57.6L480.9,58.5L481.4,54.6L481.9,58.0L482.5,65.0L483.0,62.7L483.6,63.1L484.1,62.4L484.6,62.9L485.2,68.6L485.7,76.4L486.3,67.9L486.8,75.8L487.3,63.4L487.9,63.7L488.4,73.6L489.0,59.6L489.5,58.5L490.0,63.0L490.6,53.6L491.1,52.4L491.6,70.5L492.2,57.2L492.7,60.6L493.3,60.7L493.8,57.6L494.3,67.3L494.9,66.5L495.4,67.8L496.0,67.4L496.5,63.4L497.0,71.4L497.6,68.9L498.1,59.3L498.6,63.0L499.2,60.3L499.7,73.7L500.3,67.1L500.8,65.7L501.3,62.2L501.9,65.7L502.4,56.7L503.0,62.5L503.5,62.0L504.0,62.0L504.6,57.8L505.1,64.7L505.7,55.3L506.2,59.1L506.7,60.9L507.3,61.5L507.8,58.6L508.3,55.6L508.9,56.0L509.4,59.3L510.0,56.3L510.5,60.7L511.0,53.9L511.6,61.4L512.1,73.5L512.7,53.3L513.2,60.5L513.7,68.0L514.3,62.2L514.8,66.2L515.4,48.5L515.9,57.9L516.4,70.0L517.0,57.5L517.5,63.0L518.0,49.3L518.6,66.8L519.1,73.7L519.7,60.0L520.2,62.4L520.7,62.8L521.3,72.9L521.8,57.7L522.4,50.3L522.9,71.4L523.4,53.1L524.0,63.3L524.5,46.1L525.1,57.3L525.6,61.0L526.1,53.4L526.7,56.8L527.2,63.4L527.7,55.7L528.3,62.9L528.8,70.4L529.4,47.9L529.9,61.9L530.4,63.4L531.0,57.8L531.5,69.0L532.1,67.8L532.6,62.7L533.1,62.8L533.7,59.3L534.2,53.1L534.7,62.5L535.3,56.8L535.8,56.2L536.4,66.1L536.9,58.4L537.4,65.3L538.0,53.4L538.5,57.0L539.1,59.6L539.6,67.6L540.1,59.0L540.7,64.2L541.2,55.5L541.8,60.3L542.3,64.4L542.8,54.1L543.4,55.3L543.9,63.1L544.4,52.7L545.0,61.3L545.5,61.4L546.1,58.8L546.6,64.0L547.1,62.1L547.7,60.5L548.2,50.5L548.8,50.7L549.3,61.0L549.8,50.0L550.4,59.7L550.9,57.2L551.5,54.2L552.0,57.7L552.5,45.2L553.1,58.0L553.6,66.5L554.1,51.7L554.7,61.8L555.2,61.2L555.8,77.0L556.3,53.5L556.8,54.5L557.4,54.6L557.9,53.6L558.5,49.4L559.0,59.6L559.5,53.8L560.1,63.7L560.6,61.4L561.2,53.0L561.7,57.0L562.2,67.1L562.8,57.1L563.3,60.3L563.8,64.1L564.4,56.7L564.9,61.6L565.5,68.5L566.0,65.7L566.5,48.8L567.1,68.1L567.6,57.9L568.2,55.6L568.7,55.4L569.2,66.4L569.8,61.0L570.3,58.3L570.9,54.4L571.4,62.9L571.9,66.0L572.5,53.2L573.0,52.6L573.5,56.8L574.1,62.5L574.6,56.5L575.2,58.1L575.7,53.8L576.2,66.0L576.8,57.9L577.3,59.4L577.9,64.9L578.4,57.1L578.9,58.0L579.5,60.6L580.0,55.8L580.5,66.4L581.1,58.3L581.6,55.3L582.2,56.1L582.7,51.4L583.2,64.7L583.8,66.5L584.3,56.1L584.9,54.7L585.4,44.9L585.9,53.6L586.5,62.4L587.0,52.4L587.6,62.0L588.1,65.7L588.6,41.5L589.2,54.9L589.7,52.5L590.2,53.4L590.8,45.9L591.3,54.9L591.9,49.3L592.4,62.4L592.9,64.5L593.5,47.8L594.0,47.5L594.6,53.1L595.1,54.7L595.6,55.0L596.2,59.9L596.7,46.7L597.3,51.8L597.8,52.8L598.3,53.6L598.9,49.7L599.4,52.9L599.9,51.6L600.5,62.9L601.0,53.1L601.6,43.3L602.1,59.3L602.6,57.0L603.2,51.1L603.7,50.7L604.3,52.7L604.8,66.0L605.3,53.6L605.9,63.6L606.4,61.5L607.0,53.5L607.5,58.5L608.0,52.0L608.6,38.3L609.1,52.4L609.6,52.7L610.2,62.3L610.7,60.9L611.3,63.4L611.8,60.4L612.3,63.7L612.9,61.2L613.4,58.6L614.0,63.3L614.5,65.9L615.0,65.6L615.6,54.9L616.1,57.3L616.7,51.7L617.2,51.6L617.7,59.8L618.3,53.9L618.8,66.4L619.3,44.5L619.9,51.0L620.4,59.4L621.0,65.0L621.5,56.0L621.5,84.7L621.0,86.4L620.4,86.5L619.9,90.9L619.3,91.1L618.8,87.9L618.3,72.3L617.7,90.1L617.2,87.6L616.7,85.0L616.1,88.8L615.6,81.4L615.0,88.0L614.5,93.6L614.0,89.5L613.4,75.6L612.9,88.8L612.3,98.2L611.8,82.5L611.3,92.3L610.7,88.8L610.2,91.3L609.6,86.5L609.1,84.8L608.6,84.9L608.0,83.8L607.5,86.5L607.0,88.1L606.4,87.0L605.9,83.4L605.3,83.2L604.8,85.2L604.3,79.5L603.7,89.6L603.2,93.7L602.6,88.2L602.1,87.2L601.6,79.1L601.0,85.5L600.5,80.3L599.9,88.0L599.4,92.6L598.9,91.3L598.3,85.3L597.8,89.2L597.3,91.0L596.7,85.6L596.2,86.6L595.6,82.9L595.1,90.1L594.6,89.0L594.0,88.3L593.5,86.3L592.9,88.5L592.4,98.1L591.9,92.8L591.3,86.5L590.8,84.6L590.2,87.3L589.7,92.5L589.2,87.8L588.6,88.1L588.1,94.5L587.6,93.2L587.0,85.3L586.5,86.0L585.9,83.8L585.4,97.5L584.9,94.4L584.3,97.6L583.8,84.4L583.2,83.6L582.7,88.4L582.2,95.4L581.6,88.3L581.1,90.7L580.5,96.6L580.0,91.6L579.5,88.6L578.9,90.9L578.4,81.4L577.9,93.0L577.3,99.3L576.8,87.9L576.2,96.8L575.7,93.9L575.2,95.9L574.6,89.4L574.1,91.0L573.5,103.6L573.0,95.0L572.5,93.5L571.9,104.2L571.4,94.7L570.9,94.8L570.3,84.3L569.8,88.5L569.2,94.6L568.7,92.8L568.2,93.1L567.6,98.1L567.1,91.6L566.5,90.1L566.0,95.2L565.5,91.6L564.9,96.5L564.4,91.6L563.8,88.8L563.3,93.1L562.8,91.3L562.2,102.6L561.7,98.2L561.2,104.1L560.6,96.6L560.1,97.7L559.5,91.6L559.0,91.8L558.5,96.5L557.9,88.6L557.4,100.4L556.8,89.8L556.3,90.0L555.8,92.2L555.2,103.3L554.7,101.5L554.1,94.6L553.6,91.5L553.1,89.7L552.5,96.3L552.0,94.4L551.5,87.5L550.9,85.2L550.4,91.8L549.8,88.9L549.3,92.4L548.8,91.8L548.2,95.1L547.7,92.7L547.1,88.0L546.6,95.3L546.1,96.1L545.5,98.8L545.0,93.0L544.4,97.1L543.9,96.4L543.4,97.3L542.8,95.4L542.3,95.5L541.8,94.9L541.2,101.9L540.7,96.9L540.1,86.1L539.6,99.8L539.1,105.9L538.5,87.9L538.0,87.8L537.4,97.5L536.9,97.2L536.4,95.5L535.8,89.7L535.3,96.4L534.7,88.1L534.2,106.7L533.7,97.2L533.1,87.8L532.6,90.7L532.1,103.6L531.5,100.3L531.0,87.5L530.4,93.6L529.9,99.0L529.4,101.5L528.8,92.2L528.3,94.1L527.7,107.9L527.2,86.1L526.7,98.2L526.1,96.5L525.6,100.7L525.1,101.7L524.5,88.7L524.0,99.9L523.4,99.2L522.9,95.1L522.4,94.2L521.8,86.4L521.3,94.2L520.7,97.9L520.2,95.9L519.7,97.7L519.1,91.1L518.6,96.8L518.0,92.4L517.5,97.5L517.0,104.8L516.4,98.4L515.9,95.1L515.4,102.2L514.8,87.3L514.3,104.1L513.7,100.6L513.2,105.5L512.7,89.4L512.1,103.0L511.6,93.8L511.0,105.6L510.5,90.7L510.0,95.0L509.4,94.4L508.9,96.5L508.3,92.2L507.8,99.9L507.3,90.1L506.7,95.3L506.2,89.6L505.7,94.5L505.1,92.4L504.6,98.7L504.0,91.7L503.5,100.1L503.0,94.4L502.4,96.1L501.9,94.6L501.3,92.7L500.8,88.5L500.3,96.1L499.7,92.8L499.2,96.8L498.6,83.9L498.1,87.0L497.6,98.9L497.0,94.2L496.5,96.7L496.0,93.5L495.4,95.3L494.9,100.1L494.3,93.0L493.8,92.5L493.3,89.4L492.7,88.8L492.2,92.2L491.6,93.9L491.1,92.3L490.6,100.4L490.0,93.9L489.5,91.0L489.0,94.5L488.4,98.8L487.9,82.1L487.3,92.2L486.8,94.7L486.3,99.5L485.7,89.8L485.2,94.6L484.6,99.5L484.1,82.9L483.6,97.1L483.0,93.6L482.5,88.6L481.9,94.4L481.4,93.7L480.9,85.3L480.3,102.7L479.8,91.1L479.3,92.6L478.7,99.1L478.2,97.3L477.6,92.7L477.1,99.0L476.6,97.8L476.0,98.7L475.5,94.0L474.9,93.0L474.4,94.1L473.9,89.1L473.3,95.2L472.8,93.9L472.2,94.6L471.7,95.3L471.2,97.2L470.6,89.9L470.1,96.8L469.6,96.2L469.0,95.8L468.5,95.3L467.9,95.7L467.4,104.7L466.9,87.1L466.3,93.3L465.8,98.3L465.2,99.8L464.7,97.6L464.2,101.2L463.6,101.5L463.1,88.9L462.5,98.9L462.0,101.1L461.5,96.7L460.9,95.5L460.4,103.1L459.9,101.5L459.3,107.9L458.8,99.9L458.2,95.5L457.7,96.5L457.2,90.9L456.6,101.8L456.1,99.1L455.5,103.9L455.0,97.4L454.5,92.1L453.9,93.0L453.4,104.3L452.8,102.4L452.3,105.0L451.8,106.7L451.2,103.1L450.7,94.9L450.2,100.7L449.6,93.9L449.1,104.0L448.5,97.6L448.0,108.2L447.5,93.7L446.9,101.7L446.4,98.9L445.8,105.3L445.3,111.3L444.8,101.0L444.2,95.8L443.7,96.9L443.2,107.1L442.6,105.9L442.1,96.7L441.5,106.3L441.0,104.8L440.5,105.0L439.9,103.6L439.4,112.5L438.8,110.2L438.3,109.5L437.8,101.8L437.2,108.3L436.7,103.8L436.1,98.7L435.6,108.2L435.1,100.7L434.5,109.3L434.0,102.0L433.5,101.5L432.9,110.8L432.4,115.1L431.8,112.7L431.3,105.8L430.8,109.1L430.2,105.3L429.7,108.2L429.1,117.9L428.6,110.0L428.1,113.8L427.5,112.8L427.0,115.7L426.4,108.8L425.9,104.2L425.4,105.3L424.8,110.5L424.3,116.6L423.8,117.9L423.2,115.9L422.7,106.6L422.1,118.5L421.6,113.5L421.1,111.7L420.5,115.5L420.0,126.6L419.4,115.6L418.9,117.0L418.4,123.5L417.8,120.5L417.3,123.8L416.7,120.5L416.2,118.1L415.7,112.5L415.1,120.2L414.6,120.1L414.1,118.4L413.5,117.2L413.0,122.2L412.4,121.4L411.9,117.0L411.4,125.7L410.8,123.7L410.3,124.6L409.7,124.0L409.2,122.3L408.7,132.7L408.1,116.0L407.6,119.9L407.0,128.3L406.5,130.0L406.0,124.8L405.4,138.7L404.9,135.4L404.4,133.7L403.8,133.4L403.3,120.1L402.7,131.1L402.2,137.4L401.7,129.4L401.1,131.0L400.6,133.5L400.0,133.6L399.5,130.8L399.0,131.6L398.4,127.1L397.9,135.9L397.4,131.2L396.8,140.5L396.3,136.9L395.7,143.9L395.2,138.1L394.7,134.5L394.1,134.4L393.6,129.3L393.0,137.9L392.5,136.1L392.0,142.0L391.4,139.9L390.9,140.0L390.3,140.6L389.8,129.4L389.3,142.1L388.7,134.7L388.2,137.7L387.7,145.4L387.1,140.0L386.6,141.8L386.0,144.2L385.5,136.3L385.0,134.9L384.4,137.5L383.9,141.8L383.3,134.3L382.8,140.3L382.3,139.0L381.7,148.1L381.2,150.4L380.6,145.2L380.1,141.5L379.6,143.7L379.0,139.6L378.5,141.6L378.0,145.9L377.4,144.6L376.9,143.3L376.3,140.0L375.8,140.2L375.3,145.9L374.7,143.8L374.2,145.2L373.6,150.7L373.1,153.1L372.6,147.5L372.0,141.9L371.5,147.2L370.9,150.5L370.4,134.4L369.9,145.2L369.3,140.6L368.8,153.0L368.3,149.1L367.7,147.4L367.2,149.0L366.6,144.2L366.1,144.5L365.6,152.0L365.0,155.1L364.5,151.7L363.9,147.7L363.4,138.1L362.9,152.7L362.3,151.0L361.8,149.4L361.2,149.5L360.7,152.0L360.2,149.5L359.6,147.0L359.1,144.6L358.6,159.3L358.0,160.1L357.5,154.2L356.9,149.5L356.4,150.8L355.9,153.8L355.3,154.2L354.8,153.8L354.2,165.2L353.7,159.9L353.2,157.9L352.6,163.9L352.1,162.4L351.6,176.4L351.0,161.3L350.5,167.0L349.9,157.4L349.4,174.2L348.9,159.5L348.3,169.1L347.8,171.9L347.2,185.8L346.7,176.0L346.2,172.6L345.6,171.6L345.1,162.7L344.5,179.1L344.0,170.5L343.5,181.2L342.9,177.9L342.4,181.8L341.9,186.0L341.3,190.0L340.8,188.2L340.2,190.2L339.7,186.9L339.2,191.9L338.6,194.4L338.1,187.4L337.5,186.0L337.0,191.9L336.5,192.9L335.9,192.5L335.4,190.3L334.8,193.4L334.3,195.0L333.8,197.5L333.2,196.5L332.7,191.1L332.2,201.9L331.6,192.6L331.1,207.6L330.5,207.2L330.0,202.2L329.5,204.5L328.9,214.5L328.4,198.7L327.8,207.5L327.3,210.8L326.8,208.9L326.2,209.5L325.7,211.5L325.1,210.5L324.6,216.2L324.1,210.2L323.5,220.4L323.0,216.7L322.5,211.5L321.9,222.4L321.4,219.6L320.8,220.6L320.3,223.4L319.8,224.4L319.2,222.8L318.7,225.4L318.1,222.6L317.6,225.3L317.1,224.9L316.5,227.9L316.0,227.4L315.4,232.1L314.9,222.6L314.4,226.8L313.8,229.7L313.3,230.0L312.8,223.2L312.2,228.2L311.7,239.5L311.1,227.6L310.6,233.9L310.1,234.5L309.5,233.7L309.0,234.8L308.4,238.6L307.9,232.5L307.4,240.0L306.8,240.0L306.3,233.6L305.8,236.5L305.2,234.5L304.7,237.8L304.1,235.9L303.6,235.6L303.1,238.1L302.5,239.6L302.0,241.2L301.4,240.2L300.9,234.9L300.4,241.2L299.8,236.6L299.3,236.2L298.7,237.2L298.2,243.0L297.7,241.2L297.1,232.1L296.6,239.5L296.1,242.4L295.5,239.0L295.0,238.6L294.4,239.8L293.9,241.9L293.4,240.7L292.8,239.2L292.3,244.5L291.7,236.6L291.2,237.6L290.7,239.2L290.1,238.6L289.6,237.7L289.0,243.2L288.5,245.1L288.0,243.4L287.4,238.6L286.9,236.0L286.4,240.8L285.8,235.5L285.3,230.4L284.7,238.8L284.2,238.6L283.7,233.1L283.1,231.2L282.6,232.1L282.0,230.1L281.5,236.6L281.0,229.1L280.4,229.0L279.9,232.0L279.3,230.6L278.8,228.8L278.3,228.6L277.7,223.7L277.2,229.3L276.7,227.8L276.1,227.5L275.6,233.1L275.0,229.3L274.5,234.3L274.0,229.7L273.4,230.2L272.9,228.2L272.3,232.9L271.8,232.7L271.3,234.9L270.7,229.1L270.2,237.8L269.6,233.7L269.1,233.5L268.6,234.1L268.0,229.8L267.5,234.3L267.0,233.0L266.4,230.2L265.9,236.6L265.3,237.4L264.8,232.4L264.3,231.2L263.7,236.0L263.2,235.0L262.6,237.1L262.1,236.1L261.6,233.4L261.0,231.2L260.5,235.0L260.0,236.4L259.4,241.9L258.9,240.3L258.3,240.7L257.8,236.9L257.3,239.9L256.7,237.2L256.2,242.5L255.6,238.0L255.1,243.4L254.6,241.4L254.0,244.0L253.5,244.8L252.9,243.0L252.4,247.7L251.9,242.7L251.3,240.6L250.8,248.4L250.3,244.4L249.7,246.4L249.2,249.0L248.6,243.2L248.1,247.3L247.6,250.2L247.0,244.9L246.5,250.4L245.9,247.1L245.4,249.2L244.9,246.2L244.3,244.7L243.8,245.5L243.2,257.8L242.7,242.9L242.2,255.8L241.6,249.3L241.1,253.8L240.6,260.1L240.0,248.0L239.5,254.8L238.9,258.4L238.4,251.6L237.9,256.3L237.3,256.1L236.8,253.8L236.2,254.8L235.7,256.0L235.2,256.5L234.6,257.9L234.1,256.5L233.5,255.4L233.0,259.9L232.5,256.1L231.9,258.2L231.4,254.6L230.9,258.6L230.3,260.2L229.8,262.1L229.2,265.0L228.7,265.2L228.2,261.3L227.6,269.5L227.1,260.8L226.5,271.7L226.0,267.5L225.5,269.3L224.9,265.2L224.4,267.6L223.9,264.9L223.3,264.1L222.8,269.0L222.2,268.9L221.7,265.1L221.2,273.2L220.6,270.4L220.1,270.3L219.5,273.5L219.0,273.8L218.5,272.7L217.9,271.4L217.4,276.8L216.8,276.5L216.3,277.2L215.8,274.3L215.2,276.5L214.7,273.6L214.2,276.1L213.6,282.7L213.1,285.4L212.5,280.0L212.0,279.8L211.5,277.6L210.9,282.7L210.4,277.6L209.8,281.7L209.3,281.4L208.8,284.8L208.2,285.4L207.7,283.8L207.1,282.9L206.6,279.1L206.1,284.0L205.5,284.1L205.0,286.9L204.5,283.5L203.9,285.2L203.4,284.8L202.8,280.1L202.3,274.7L201.8,284.6L201.2,283.0L200.7,285.8L200.1,282.6L199.6,285.2L199.1,283.7L198.5,281.5L198.0,283.9L197.4,286.6L196.9,288.0L196.4,291.4L195.8,287.3L195.3,279.4L194.8,281.8L194.2,286.7L193.7,286.7L193.1,282.0L192.6,285.5L192.1,287.9L191.5,282.9L191.0,283.1L190.4,283.8L189.9,288.7L189.4,288.2L188.8,283.8L188.3,289.5L187.7,292.3L187.2,288.7L186.7,287.5L186.1,292.1L185.6,283.4L185.1,287.5L184.5,286.0L184.0,292.6L183.4,286.5L182.9,287.9L182.4,287.9L181.8,293.5L181.3,292.8L180.7,287.1L180.2,291.7L179.7,291.2L179.1,289.8L178.6,292.5L178.1,292.8L177.5,291.9L177.0,286.5L176.4,295.1L175.9,288.5L175.4,289.0L174.8,289.9L174.3,295.7L173.7,288.6L173.2,294.4L172.7,297.9L172.1,295.9L171.6,294.2L171.0,298.0L170.5,296.1L170.0,297.1L169.4,300.4L168.9,301.2L168.4,298.7L167.8,300.2L167.3,301.5L166.7,300.6L166.2,305.8L165.7,302.8L165.1,299.6L164.6,300.0L164.0,299.7L163.5,301.4L163.0,304.1L162.4,305.8L161.9,308.7L161.3,310.7L160.8,309.4L160.3,309.0L159.7,309.1L159.2,308.3L158.7,313.7L158.1,314.3L157.6,311.4L157.0,316.8L156.5,319.1L156.0,318.7L155.4,318.1L154.9,322.7L154.3,324.3L153.8,324.2L153.3,324.3L152.7,323.8L152.2,323.4L151.6,329.6L151.1,327.5L150.6,329.2L150.0,331.0L149.5,333.6L149.0,332.5L148.4,336.8L147.9,336.0L147.3,338.0L146.8,340.9L146.3,342.1L145.7,341.9L145.2,344.7L144.6,343.7L144.1,347.0L143.6,346.8L143.0,350.0L142.5,350.6L141.9,352.7L141.4,353.9L140.9,355.0L140.3,356.8L139.8,357.6L139.3,359.4L138.7,360.7L138.2,362.0L137.6,363.5L137.1,364.9Z" fill="#ff7f0e" fill-opacity=".25" stroke="#ff7f0e" stroke-opacity=".25" stroke-width="1.3"/>
<path d="M137.1,364.9L137.6,359.8L138.2,354.8L138.7,349.9L139.3,344.8L139.8,339.9L140.3,334.6L140.9,329.2L141.4,324.7L141.9,319.7L142.5,314.2L143.0,309.2L143.6,304.3L144.1,300.1L144.6,295.8L145.2,291.5L145.7,289.1L146.3,284.7L146.8,282.1L147.3,280.2L147.9,279.2L148.4,276.3L149.0,275.8L149.5,272.8L150.0,271.4L150.6,270.3L151.1,271.5L151.6,268.4L152.2,266.9L152.7,265.7L153.3,266.9L153.8,264.7L154.3,264.5L154.9,263.3L155.4,259.7L156.0,261.5L156.5,259.4L157.0,257.0L157.6,258.4L158.1,256.6L158.7,255.3L159.2,254.4L159.7,255.8L160.3,252.4L160.8,249.0L161.3,253.6L161.9,247.9L162.4,248.3L163.0,248.8L163.5,242.4L164.0,243.9L164.6,246.8L165.1,243.1L165.7,241.1L166.2,241.6L166.7,238.7L167.3,239.2L167.8,236.6L168.4,233.8L168.9,237.2L169.4,234.3L170.0,234.6L170.5,232.2L171.0,234.0L171.6,231.6L172.1,229.7L172.7,226.1L173.2,224.5L173.7,229.0L174.3,226.7L174.8,222.3L175.4,227.3L175.9,222.7L176.4,220.9L177.0,216.9L177.5,217.3L178.1,218.8L178.6,218.0L179.1,216.9L179.7,211.7L180.2,215.5L180.7,214.4L181.3,211.9L181.8,212.1L182.4,211.4L182.9,212.8L183.4,209.2L184.0,209.4L184.5,204.4L185.1,204.8L185.6,206.1L186.1,203.8L186.7,205.9L187.2,201.8L187.7,204.1L188.3,202.1L188.8,206.5L189.4,201.7L189.9,206.7L190.4,207.2L191.0,202.0L191.5,203.2L192.1,199.8L192.6,193.6L193.1,201.6L193.7,200.5L194.2,197.7L194.8,196.4L195.3,197.8L195.8,197.4L196.4,194.4L196.9,194.4L197.4,198.4L198.0,195.1L198.5,194.3L199.1,197.0L199.6,192.7L200.1,195.5L200.7,189.8L201.2,191.7L201.8,191.7L202.3,193.4L202.8,191.6L203.4,197.0L203.9,194.0L204.5,189.2L205.0,196.4L205.5,187.0L206.1,194.6L206.6,186.5L207.1,191.2L207.7,185.8L208.2,187.5L208.8,192.4L209.3,183.2L209.8,182.3L210.4,186.7L210.9,187.0L211.5,186.3L212.0,188.6L212.5,181.6L213.1,186.5L213.6,184.6L214.2,186.7L214.7,185.8L215.2,187.5L215.8,179.1L216.3,183.3L216.8,179.4L217.4,182.2L217.9,184.1L218.5,182.7L219.0,183.1L219.5,181.0L220.1,181.9L220.6,181.4L221.2,184.6L221.7,182.5L222.2,174.2L222.8,181.5L223.3,182.4L223.9,177.6L224.4,173.8L224.9,182.8L225.5,178.5L226.0,179.6L226.5,183.0L227.1,174.5L227.6,176.7L228.2,176.1L228.7,178.5L229.2,174.3L229.8,177.2L230.3,175.6L230.9,178.5L231.4,178.6L231.9,169.9L232.5,175.8L233.0,172.9L233.5,173.7L234.1,174.8L234.6,174.8L235.2,170.8L235.7,173.7L236.2,172.9L236.8,172.1L237.3,168.0L237.9,169.4L238.4,170.2L238.9,173.1L239.5,175.6L240.0,167.6L240.6,167.3L241.1,170.7L241.6,168.2L242.2,167.2L242.7,166.8L243.2,166.2L243.8,170.6L244.3,163.8L244.9,172.8L245.4,165.5L245.9,166.5L246.5,165.0L247.0,161.3L247.6,162.4L248.1,171.0L248.6,172.6L249.2,163.9L249.7,169.9L250.3,166.3L250.8,163.1L251.3,171.3L251.9,172.7L252.4,164.4L252.9,164.9L253.5,165.6L254.0,164.4L254.6,167.2L255.1,169.2L255.6,164.4L256.2,166.9L256.7,169.0L257.3,161.4L257.8,163.1L258.3,161.3L258.9,165.9L259.4,164.5L260.0,165.5L260.5,164.9L261.0,161.0L261.6,164.2L262.1,160.1L262.6,160.0L263.2,154.0L263.7,165.6L264.3,157.5L264.8,160.7L265.3,160.3L265.9,165.0L266.4,161.4L267.0,157.1L267.5,159.8L268.0,159.0L268.6,160.1L269.1,154.9L269.6,158.8L270.2,166.2L270.7,160.8L271.3,165.0L271.8,169.3L272.3,159.6L272.9,152.9L273.4,157.2L274.0,161.3L274.5,160.3L275.0,152.9L275.6,156.1L276.1,156.3L276.7,156.5L277.2,156.0L277.7,153.1L278.3,153.8L278.8,154.8L279.3,159.0L279.9,153.4L280.4,157.4L281.0,150.9L281.5,159.1L282.0,154.9L282.6,154.3L283.1,158.8L283.7,147.9L284.2,148.8L284.7,155.5L285.3,151.0L285.8,152.3L286.4,162.8L286.9,152.5L287.4,153.5L288.0,152.9L288.5,156.9L289.0,153.9L289.6,153.5L290.1,148.6L290.7,151.5L291.2,152.6L291.7,147.1L292.3,154.3L292.8,153.6L293.4,158.6L293.9,146.5L294.4,148.5L295.0,148.6L295.5,149.4L296.1,151.3L296.6,150.8L297.1,152.3L297.7,152.0L298.2,151.0L298.7,145.8L299.3,149.0L299.8,151.1L300.4,152.9L300.9,153.0L301.4,145.0L302.0,148.8L302.5,150.2L303.1,151.6L303.6,154.2L304.1,150.5L304.7,147.0L305.2,151.4L305.8,150.8L306.3,150.7L306.8,149.4L307.4,155.3L307.9,150.5L308.4,152.6L309.0,146.3L309.5,152.1L310.1,147.2L310.6,143.8L311.1,150.2L311.7,151.1L312.2,148.3L312.8,148.9L313.3,152.3L313.8,147.0L314.4,141.5L314.9,149.4L315.4,149.1L316.0,151.9L316.5,146.7L317.1,151.9L317.6,151.1L318.1,142.3L318.7,149.7L319.2,142.3L319.8,140.4L320.3,144.5L320.8,143.1L321.4,137.8L321.9,145.1L322.5,146.2L323.0,148.6L323.5,143.2L324.1,137.4L324.6,138.8L325.1,145.2L325.7,144.3L326.2,142.4L326.8,138.9L327.3,140.2L327.8,138.1L328.4,137.2L328.9,138.9L329.5,137.4L330.0,135.8L330.5,136.4L331.1,133.3L331.6,126.9L332.2,130.8L332.7,131.8L333.2,137.6L333.8,128.3L334.3,136.5L334.8,133.3L335.4,123.1L335.9,122.6L336.5,125.0L337.0,130.6L337.5,124.5L338.1,125.1L338.6,119.0L339.2,111.7L339.7,119.5L340.2,123.1L340.8,124.1L341.3,118.8L341.9,118.7L342.4,122.2L342.9,116.2L343.5,121.0L344.0,110.6L344.5,110.2L345.1,109.5L345.6,115.6L346.2,110.7L346.7,112.9L347.2,113.4L347.8,112.6L348.3,116.3L348.9,116.3L349.4,106.0L349.9,110.3L350.5,108.4L351.0,104.7L351.6,117.2L352.1,112.7L352.6,108.2L353.2,107.1L353.7,110.6L354.2,103.9L354.8,107.7L355.3,114.3L355.9,112.9L356.4,104.6L356.9,106.1L357.5,117.2L358.0,101.8L358.6,105.2L359.1,101.6L359.6,109.7L360.2,109.1L360.7,113.0L361.2,95.6L361.8,108.3L362.3,99.9L362.9,110.4L363.4,106.4L363.9,115.0L364.5,108.8L365.0,102.3L365.6,112.8L366.1,101.7L366.6,105.1L367.2,111.5L367.7,108.9L368.3,108.6L368.8,106.5L369.3,108.6L369.9,109.4L370.4,106.4L370.9,109.3L371.5,110.0L372.0,103.6L372.6,98.7L373.1,109.5L373.6,101.7L374.2,104.3L374.7,105.3L375.3,96.1L375.8,102.1L376.3,92.0L376.9,102.2L377.4,96.2L378.0,98.6L378.5,100.5L379.0,93.6L379.6,96.9L380.1,93.3L380.6,96.3L381.2,101.2L381.7,96.5L382.3,95.8L382.8,91.5L383.3,100.2L383.9,96.1L384.4,104.0L385.0,92.8L385.5,101.0L386.0,104.4L386.6,96.1L387.1,90.6L387.7,103.0L388.2,100.9L388.7,99.2L389.3,101.0L389.8,93.9L390.3,99.5L390.9,99.0L391.4,92.9L392.0,99.2L392.5,93.5L393.0,100.1L393.6,101.2L394.1,104.2L394.7,86.7L395.2,97.0L395.7,94.3L396.3,95.6L396.8,94.6L397.4,95.1L397.9,86.3L398.4,100.2L399.0,102.5L399.5,99.7L400.0,100.9L400.6,90.8L401.1,90.2L401.7,98.3L402.2,100.1L402.7,94.9L403.3,86.4L403.8,106.0L404.4,89.9L404.9,97.2L405.4,87.0L406.0,96.7L406.5,92.7L407.0,98.1L407.6,95.4L408.1,84.0L408.7,86.3L409.2,91.8L409.7,93.8L410.3,98.3L410.8,91.0L411.4,89.0L411.9,89.0L412.4,88.7L413.0,93.3L413.5,88.1L414.1,87.7L414.6,81.1L415.1,78.1L415.7,87.3L416.2,90.0L416.7,86.4L417.3,88.7L417.8,89.1L418.4,85.6L418.9,89.9L419.4,81.9L420.0,85.0L420.5,83.1L421.1,84.9L421.6,87.2L422.1,88.0L422.7,84.4L423.2,85.6L423.8,81.7L424.3,82.6L424.8,88.7L425.4,81.7L425.9,88.2L426.4,84.5L427.0,82.7L427.5,90.9L428.1,80.5L428.6,80.2L429.1,81.6L429.7,82.8L430.2,82.5L430.8,85.3L431.3,81.9L431.8,83.2L432.4,80.1L432.9,86.1L433.5,79.3L434.0,79.6L434.5,80.9L435.1,82.3L435.6,77.6L436.1,88.0L436.7,77.9L437.2,78.8L437.8,78.6L438.3,78.1L438.8,82.9L439.4,81.0L439.9,76.7L440.5,77.6L441.0,78.6L441.5,86.7L442.1,76.9L442.6,73.9L443.2,74.6L443.7,78.2L444.2,86.6L444.8,74.8L445.3,79.8L445.8,91.0L446.4,77.3L446.9,86.0L447.5,85.0L448.0,81.9L448.5,72.8L449.1,80.5L449.6,77.4L450.2,70.4L450.7,71.1L451.2,79.0L451.8,79.6L452.3,84.4L452.8,81.6L453.4,76.3L453.9,76.4L454.5,77.7L455.0,73.4L455.5,81.7L456.1,78.3L456.6,74.5L457.2,75.2L457.7,72.8L458.2,75.9L458.8,79.2L459.3,76.0L459.9,82.4L460.4,85.3L460.9,74.8L461.5,77.7L462.0,75.9L462.5,85.4L463.1,79.0L463.6,80.1L464.2,81.3L464.7,87.8L465.2,78.6L465.8,72.8L466.3,75.2L466.9,79.7L467.4,76.9L467.9,73.2L468.5,89.8L469.0,77.3L469.6,74.1L470.1,73.3L470.6,68.5L471.2,71.1L471.7,74.9L472.2,74.9L472.8,72.6L473.3,78.8L473.9,76.4L474.4,71.8L474.9,66.8L475.5,76.7L476.0,76.2L476.6,75.0L477.1,69.6L477.6,76.1L478.2,69.0L478.7,80.5L479.3,76.8L479.8,76.9L480.3,72.2L480.9,71.0L481.4,83.0L481.9,80.2L482.5,74.3L483.0,79.0L483.6,83.1L484.1,71.0L484.6,73.6L485.2,73.6L485.7,78.2L486.3,71.1L486.8,77.1L487.3,70.7L487.9,80.2L488.4,80.0L489.0,75.0L489.5,79.2L490.0,72.7L490.6,74.7L491.1,80.3L491.6,75.6L492.2,77.6L492.7,71.6L493.3,78.9L493.8,78.0L494.3,70.2L494.9,65.4L495.4,66.5L496.0,75.6L496.5,74.9L497.0,68.7L497.6,76.5L498.1,80.5L498.6,75.4L499.2,73.8L499.7,79.8L500.3,83.7L500.8,82.7L501.3,72.8L501.9,79.5L502.4,76.6L503.0,74.9L503.5,73.0L504.0,77.5L504.6,73.6L505.1,80.1L505.7,77.6L506.2,80.8L506.7,70.6L507.3,76.1L507.8,79.4L508.3,77.6L508.9,77.0L509.4,72.6L510.0,83.5L510.5,80.8L511.0,77.7L511.6,64.0L512.1,71.4L512.7,76.4L513.2,72.6L513.7,66.2L514.3,77.0L514.8,77.7L515.4,70.2L515.9,73.6L516.4,72.8L517.0,78.3L517.5,66.8L518.0,67.9L518.6,73.3L519.1,72.7L519.7,85.5L520.2,72.9L520.7,76.8L521.3,73.9L521.8,72.7L522.4,77.5L522.9,83.9L523.4,74.2L524.0,79.4L524.5,77.5L525.1,78.8L525.6,77.6L526.1,87.0L526.7,70.4L527.2,75.0L527.7,71.0L528.3,67.0L528.8,76.3L529.4,84.9L529.9,80.7L530.4,82.2L531.0,79.0L531.5,76.3L532.1,86.1L532.6,75.1L533.1,83.9L533.7,75.5L534.2,77.4L534.7,78.5L535.3,77.4L535.8,79.6L536.4,80.0L536.9,85.1L537.4,77.4L538.0,68.6L538.5,68.0L539.1,71.2L539.6,74.2L540.1,80.7L540.7,70.8L541.2,77.9L541.8,78.0L542.3,79.1L542.8,77.4L543.4,79.9L543.9,78.3L544.4,83.1L545.0,79.8L545.5,67.3L546.1,78.5L546.6,79.3L547.1,75.8L547.7,75.0L548.2,83.6L548.8,79.4L549.3,74.1L549.8,77.1L550.4,77.8L550.9,71.0L551.5,81.5L552.0,77.8L552.5,80.6L553.1,71.1L553.6,87.3L554.1,81.2L554.7,80.5L555.2,74.9L555.8,75.1L556.3,71.3L556.8,85.3L557.4,74.3L557.9,79.2L558.5,80.9L559.0,75.2L559.5,82.0L560.1,87.5L560.6,79.4L561.2,84.7L561.7,80.6L562.2,75.8L562.8,76.0L563.3,70.0L563.8,78.3L564.4,84.6L564.9,80.9L565.5,81.6L566.0,83.0L566.5,75.2L567.1,80.2L567.6,86.5L568.2,73.8L568.7,77.6L569.2,75.3L569.8,76.5L570.3,74.0L570.9,76.7L571.4,71.0L571.9,74.8L572.5,75.0L573.0,74.8L573.5,83.5L574.1,77.2L574.6,77.4L575.2,75.0L575.7,82.2L576.2,67.8L576.8,74.8L577.3,80.9L577.9,83.0L578.4,76.1L578.9,74.9L579.5,77.7L580.0,73.7L580.5,76.9L581.1,71.1L581.6,76.9L582.2,73.5L582.7,68.5L583.2,60.7L583.8,77.4L584.3,74.6L584.9,76.2L585.4,68.3L585.9,77.3L586.5,73.9L587.0,71.6L587.6,75.8L588.1,75.5L588.6,73.1L589.2,80.5L589.7,77.2L590.2,72.1L590.8,69.3L591.3,70.7L591.9,77.9L592.4,71.6L592.9,65.4L593.5,66.3L594.0,69.1L594.6,72.7L595.1,65.4L595.6,70.9L596.2,73.4L596.7,71.5L597.3,60.7L597.8,66.5L598.3,62.1L598.9,69.9L599.4,63.2L599.9,70.5L600.5,68.4L601.0,56.0L601.6,64.1L602.1,70.1L602.6,68.2L603.2,66.3L603.7,62.2L604.3,70.2L604.8,76.1L605.3,69.3L605.9,67.9L606.4,67.5L607.0,61.8L607.5,66.6L608.0,64.3L608.6,73.3L609.1,64.1L609.6,58.3L610.2,64.6L610.7,67.1L611.3,67.6L611.8,59.9L612.3,72.9L612.9,69.1L613.4,66.6L614.0,65.4L614.5,71.1L615.0,67.7L615.6,70.6L616.1,68.9L616.7,70.2L617.2,75.1L617.7,70.0L618.3,65.9L618.8,74.7L619.3,71.4L619.9,67.3L620.4,75.6L621.0,70.0L621.5,81.8" fill="none" stroke="#ff7f0e" stroke-width="3.5"/>
<path d="M137.1,364.9L137.6,362.3L138.2,359.7L138.7,357.2L139.3,354.6L139.8,352.1L140.3,349.5L140.9,346.7L141.4,344.7L141.9,341.6L142.5,339.3L143.0,336.3L143.6,334.1L144.1,331.8L144.6,329.0L145.2,326.2L145.7,323.9L146.3,321.2L146.8,319.1L147.3,317.3L147.9,313.2L148.4,310.7L149.0,308.5L149.5,306.0L150.0,302.8L150.6,301.2L151.1,299.5L151.6,297.3L152.2,294.5L152.7,294.7L153.3,290.9L153.8,290.5L154.3,289.2L154.9,285.3L155.4,284.7L156.0,284.1L156.5,281.4L157.0,278.2L157.6,275.8L158.1,275.4L158.7,272.5L159.2,270.1L159.7,269.6L160.3,266.4L160.8,264.8L161.3,264.1L161.9,262.8L162.4,260.9L163.0,259.8L163.5,259.3L164.0,257.9L164.6,254.8L165.1,254.6L165.7,252.6L166.2,250.9L166.7,250.5L167.3,247.1L167.8,249.8L168.4,246.5L168.9,246.8L169.4,242.7L170.0,241.7L170.5,245.3L171.0,242.8L171.6,239.4L172.1,238.0L172.7,237.1L173.2,237.2L173.7,235.5L174.3,234.3L174.8,234.3L175.4,231.7L175.9,235.3L176.4,230.3L177.0,231.6L177.5,227.9L178.1,228.5L178.6,228.5L179.1,225.7L179.7,226.6L180.2,225.6L180.7,225.6L181.3,222.6L181.8,221.1L182.4,219.5L182.9,220.5L183.4,218.0L184.0,218.8L184.5,218.2L185.1,216.4L185.6,215.0L186.1,216.5L186.7,215.8L187.2,215.2L187.7,214.3L188.3,215.2L188.8,211.7L189.4,213.4L189.9,211.5L190.4,213.0L191.0,210.5L191.5,209.9L192.1,210.7L192.6,206.2L193.1,208.3L193.7,205.5L194.2,206.2L194.8,208.4L195.3,207.4L195.8,205.5L196.4,205.5L196.9,205.0L197.4,205.2L198.0,207.5L198.5,204.6L199.1,207.7L199.6,203.0L200.1,204.6L200.7,204.4L201.2,203.3L201.8,202.1L202.3,204.9L202.8,205.2L203.4,203.7L203.9,205.2L204.5,203.0L205.0,198.2L205.5,202.7L206.1,199.4L206.6,202.8L207.1,199.5L207.7,200.3L208.2,199.6L208.8,198.2L209.3,195.7L209.8,198.4L210.4,198.2L210.9,200.0L211.5,196.9L212.0,198.1L212.5,195.9L213.1,197.3L213.6,193.6L214.2,200.5L214.7,197.0L215.2,194.5L215.8,196.7L216.3,197.3L216.8,196.1L217.4,198.0L217.9,194.8L218.5,190.0L219.0,192.3L219.5,196.6L220.1,195.9L220.6,194.7L221.2,191.7L221.7,195.1L222.2,194.6L222.8,191.2L223.3,191.0L223.9,193.3L224.4,194.6L224.9,195.2L225.5,193.3L226.0,196.2L226.5,189.8L227.1,192.4L227.6,189.9L228.2,186.7L228.7,188.0L229.2,192.7L229.8,188.3L230.3,187.5L230.9,191.4L231.4,191.7L231.9,189.7L232.5,192.7L233.0,185.9L233.5,194.2L234.1,191.2L234.6,189.0L235.2,188.6L235.7,187.4L236.2,186.9L236.8,187.6L237.3,184.3L237.9,191.3L238.4,186.2L238.9,187.5L239.5,185.3L240.0,184.7L240.6,187.0L241.1,186.1L241.6,182.5L242.2,183.2L242.7,185.2L243.2,178.6L243.8,177.6L244.3,186.1L244.9,181.7L245.4,176.1L245.9,179.9L246.5,180.9L247.0,181.6L247.6,182.1L248.1,181.0L248.6,181.5L249.2,178.0L249.7,180.5L250.3,180.3L250.8,181.8L251.3,178.7L251.9,180.4L252.4,178.4L252.9,175.0L253.5,176.4L254.0,175.7L254.6,175.8L255.1,176.2L255.6,176.3L256.2,176.5L256.7,173.4L257.3,177.8L257.8,171.3L258.3,174.3L258.9,176.1L259.4,175.2L260.0,175.4L260.5,173.0L261.0,175.0L261.6,169.9L262.1,174.7L262.6,178.3L263.2,174.0L263.7,177.2L264.3,171.6L264.8,168.4L265.3,169.3L265.9,174.4L266.4,172.6L267.0,165.4L267.5,169.1L268.0,169.7L268.6,166.5L269.1,162.4L269.6,165.3L270.2,168.3L270.7,167.4L271.3,166.4L271.8,169.6L272.3,170.6L272.9,167.2L273.4,169.8L274.0,167.0L274.5,166.3L275.0,159.6L275.6,168.5L276.1,166.1L276.7,166.0L277.2,164.0L277.7,162.0L278.3,166.1L278.8,166.8L279.3,169.0L279.9,166.6L280.4,162.1L281.0,163.3L281.5,166.1L282.0,164.0L282.6,162.6L283.1,161.0L283.7,164.2L284.2,163.0L284.7,167.6L285.3,165.5L285.8,157.0L286.4,168.4L286.9,162.6L287.4,160.8L288.0,162.5L288.5,163.7L289.0,161.3L289.6,161.0L290.1,161.1L290.7,166.5L291.2,161.0L291.7,163.1L292.3,162.0L292.8,159.5L293.4,158.0L293.9,157.1L294.4,161.3L295.0,156.7L295.5,155.8L296.1,155.8L296.6,154.8L297.1,159.6L297.7,159.5L298.2,156.2L298.7,163.1L299.3,157.9L299.8,160.2L300.4,159.5L300.9,163.9L301.4,161.0L302.0,158.0L302.5,154.9L303.1,154.4L303.6,157.8L304.1,158.0L304.7,160.1L305.2,155.8L305.8,157.8L306.3,154.9L306.8,150.9L307.4,156.8L307.9,161.6L308.4,159.4L309.0,161.3L309.5,160.4L310.1,151.8L310.6,155.3L311.1,161.2L311.7,153.7L312.2,151.5L312.8,157.0L313.3,158.0L313.8,156.7L314.4,154.5L314.9,153.2L315.4,151.2L316.0,151.0L316.5,151.0L317.1,150.3L317.6,152.6L318.1,160.1L318.7,155.2L319.2,153.5L319.8,155.9L320.3,151.3L320.8,155.6L321.4,157.5L321.9,149.1L322.5,151.7L323.0,153.2L323.5,150.6L324.1,150.0L324.6,152.5L325.1,162.2L325.7,155.9L326.2,155.0L326.8,156.8L327.3,152.5L327.8,148.9L328.4,154.7L328.9,157.0L329.5,145.6L330.0,154.3L330.5,157.0L331.1,151.7L331.6,150.9L332.2,154.8L332.7,149.4L333.2,153.8L333.8,155.3L334.3,151.2L334.8,149.0L335.4,153.9L335.9,150.3L336.5,151.8L337.0,141.1L337.5,153.8L338.1,146.1L338.6,151.2L339.2,151.3L339.7,148.1L340.2,147.4L340.8,145.9L341.3,149.2L341.9,152.5L342.4,152.2L342.9,148.2L343.5,147.8L344.0,144.7L344.5,148.2L345.1,145.7L345.6,143.9L346.2,148.8L346.7,154.8L347.2,153.5L347.8,154.4L348.3,143.0L348.9,152.0L349.4,144.1L349.9,146.4L350.5,142.1L351.0,144.6L351.6,148.7L352.1,148.9L352.6,147.7L353.2,147.3L353.7,149.8L354.2,147.8L354.8,141.5L355.3,153.9L355.9,146.4L356.4,150.7L356.9,146.5L357.5,143.9L358.0,147.2L358.6,144.0L359.1,152.9L359.6,142.5L360.2,148.9L360.7,144.2L361.2,145.8L361.8,156.2L362.3,149.2L362.9,145.3L363.4,140.1L363.9,144.9L364.5,144.9L365.0,151.2L365.6,140.2L366.1,138.7L366.6,145.4L367.2,146.3L367.7,151.6L368.3,141.8L368.8,134.7L369.3,142.3L369.9,140.1L370.4,142.8L370.9,148.6L371.5,139.5L372.0,149.4L372.6,145.3L373.1,143.3L373.6,140.9L374.2,142.6L374.7,142.6L375.3,147.0L375.8,149.0L376.3,143.6L376.9,146.5L377.4,148.8L378.0,148.6L378.5,145.4L379.0,150.7L379.6,148.6L380.1,149.7L380.6,142.4L381.2,141.4L381.7,135.0L382.3,148.7L382.8,145.4L383.3,139.0L383.9,143.4L384.4,143.7L385.0,135.6L385.5,143.6L386.0,146.7L386.6,147.3L387.1,140.6L387.7,140.7L388.2,147.2L388.7,145.6L389.3,139.5L389.8,139.2L390.3,143.9L390.9,138.8L391.4,138.9L392.0,148.2L392.5,142.3L393.0,139.3L393.6,143.1L394.1,149.2L394.7,141.8L395.2,137.6L395.7,134.2L396.3,149.0L396.8,129.9L397.4,144.6L397.9,136.3L398.4,135.1L399.0,136.0L399.5,139.2L400.0,144.3L400.6,137.1L401.1,142.4L401.7,149.4L402.2,128.1L402.7,136.4L403.3,132.0L403.8,142.7L404.4,133.1L404.9,132.6L405.4,132.6L406.0,138.7L406.5,143.3L407.0,139.1L407.6,147.1L408.1,145.0L408.7,137.8L409.2,141.9L409.7,138.6L410.3,138.2L410.8,130.1L411.4,132.5L411.9,137.7L412.4,132.6L413.0,140.4L413.5,138.5L414.1,133.5L414.6,141.9L415.1,138.0L415.7,142.0L416.2,136.2L416.7,130.1L417.3,139.5L417.8,135.5L418.4,139.8L418.9,140.7L419.4,141.0L420.0,130.2L420.5,126.5L421.1,133.8L421.6,138.5L422.1,132.8L422.7,136.8L423.2,132.2L423.8,134.1L424.3,134.0L424.8,132.6L425.4,137.2L425.9,136.4L426.4,141.5L427.0,136.4L427.5,140.1L428.1,135.0L428.6,138.1L429.1,133.8L429.7,132.2L430.2,139.5L430.8,137.0L431.3,137.4L431.8,130.6L432.4,126.7L432.9,129.9L433.5,134.6L434.0,127.3L434.5,138.9L435.1,126.9L435.6,135.3L436.1,143.6L436.7,122.0L437.2,126.1L437.8,136.3L438.3,131.4L438.8,132.8L439.4,131.4L439.9,137.6L440.5,134.3L441.0,129.6L441.5,130.5L442.1,126.5L442.6,130.8L443.2,121.7L443.7,133.7L444.2,129.7L444.8,138.2L445.3,135.5L445.8,125.1L446.4,134.0L446.9,128.0L447.5,130.3L448.0,134.0L448.5,131.2L449.1,131.7L449.6,131.5L450.2,126.4L450.7,126.7L451.2,131.5L451.8,132.6L452.3,127.8L452.8,129.2L453.4,124.7L453.9,118.1L454.5,125.2L455.0,128.6L455.5,129.1L456.1,131.7L456.6,131.8L457.2,132.1L457.7,129.6L458.2,129.6L458.8,124.9L459.3,129.3L459.9,128.4L460.4,132.4L460.9,120.9L461.5,125.3L462.0,120.2L462.5,124.0L463.1,121.2L463.6,128.0L464.2,124.0L464.7,116.1L465.2,131.5L465.8,121.9L466.3,119.8L466.9,124.7L467.4,123.3L467.9,121.2L468.5,128.8L469.0,124.4L469.6,129.5L470.1,128.6L470.6,128.3L471.2,126.2L471.7,125.0L472.2,123.6L472.8,131.1L473.3,117.3L473.9,120.5L474.4,122.2L474.9,126.5L475.5,125.3L476.0,122.6L476.6,123.1L477.1,131.4L477.6,121.5L478.2,112.6L478.7,131.8L479.3,120.2L479.8,122.7L480.3,124.5L480.9,118.4L481.4,128.7L481.9,123.1L482.5,117.7L483.0,124.4L483.6,125.2L484.1,122.9L484.6,125.1L485.2,116.9L485.7,126.8L486.3,119.5L486.8,128.0L487.3,120.1L487.9,123.2L488.4,133.2L489.0,122.6L489.5,126.8L490.0,124.2L490.6,116.0L491.1,126.7L491.6,126.4L492.2,116.1L492.7,121.4L493.3,115.5L493.8,120.4L494.3,125.2L494.9,121.8L495.4,116.4L496.0,117.5L496.5,121.3L497.0,121.0L497.6,121.5L498.1,123.3L498.6,113.0L499.2,120.8L499.7,125.3L500.3,122.5L500.8,117.5L501.3,117.8L501.9,120.9L502.4,122.9L503.0,120.0L503.5,126.8L504.0,125.2L504.6,116.5L505.1,121.6L505.7,118.1L506.2,114.5L506.7,116.7L507.3,119.2L507.8,110.5L508.3,116.4L508.9,120.4L509.4,115.9L510.0,117.1L510.5,122.2L511.0,118.3L511.6,119.1L512.1,126.4L512.7,119.0L513.2,119.3L513.7,119.9L514.3,124.7L514.8,119.3L515.4,117.9L515.9,117.2L516.4,122.2L517.0,114.9L517.5,122.3L518.0,118.2L518.6,111.9L519.1,120.1L519.7,119.5L520.2,113.1L520.7,119.1L521.3,118.8L521.8,116.8L522.4,113.5L522.9,126.8L523.4,121.3L524.0,122.1L524.5,122.4L525.1,121.5L525.6,121.4L526.1,116.7L526.7,121.5L527.2,117.4L527.7,116.2L528.3,120.8L528.8,117.2L529.4,111.1L529.9,116.4L530.4,120.2L531.0,117.9L531.5,121.3L532.1,116.4L532.6,114.0L533.1,120.8L533.7,118.3L534.2,112.9L534.7,119.4L535.3,116.5L535.8,121.4L536.4,120.5L536.9,119.3L537.4,108.5L538.0,118.7L538.5,119.2L539.1,119.3L539.6,117.7L540.1,114.4L540.7,116.2L541.2,108.7L541.8,116.0L542.3,111.1L542.8,115.7L543.4,114.3L543.9,122.4L544.4,117.2L545.0,116.9L545.5,117.6L546.1,125.1L546.6,113.0L547.1,118.0L547.7,118.2L548.2,117.4L548.8,117.3L549.3,114.7L549.8,121.3L550.4,119.9L550.9,115.1L551.5,115.6L552.0,117.6L552.5,118.4L553.1,119.4L553.6,116.3L554.1,111.3L554.7,120.1L555.2,109.9L555.8,112.5L556.3,117.6L556.8,112.7L557.4,121.6L557.9,122.6L558.5,120.8L559.0,117.3L559.5,116.9L560.1,117.6L560.6,115.1L561.2,124.0L561.7,113.5L562.2,121.1L562.8,118.0L563.3,117.0L563.8,119.9L564.4,120.7L564.9,119.2L565.5,115.3L566.0,112.8L566.5,112.9L567.1,119.0L567.6,118.2L568.2,118.7L568.7,113.2L569.2,123.0L569.8,110.0L570.3,116.8L570.9,117.9L571.4,113.4L571.9,110.7L572.5,113.4L573.0,110.5L573.5,114.1L574.1,109.7L574.6,109.6L575.2,114.9L575.7,108.7L576.2,113.7L576.8,113.9L577.3,117.9L577.9,115.3L578.4,111.0L578.9,119.3L579.5,111.4L580.0,112.6L580.5,112.8L581.1,122.6L581.6,114.2L582.2,111.2L582.7,116.7L583.2,113.3L583.8,123.0L584.3,110.8L584.9,116.1L585.4,109.9L585.9,120.6L586.5,110.5L587.0,114.2L587.6,110.0L588.1,116.8L588.6,115.5L589.2,104.1L589.7,116.2L590.2,115.7L590.8,113.9L591.3,116.8L591.9,108.0L592.4,105.8L592.9,115.4L593.5,119.4L594.0,107.8L594.6,108.0L595.1,109.1L595.6,107.7L596.2,115.7L596.7,112.9L597.3,117.6L597.8,117.7L598.3,108.2L598.9,114.6L599.4,102.9L599.9,111.6L600.5,114.4L601.0,108.6L601.6,104.6L602.1,109.7L602.6,116.4L603.2,110.1L603.7,106.0L604.3,113.4L604.8,114.4L605.3,107.3L605.9,110.7L606.4,115.6L607.0,112.6L607.5,114.1L608.0,109.9L608.6,110.5L609.1,106.4L609.6,108.0L610.2,117.0L610.7,109.1L611.3,107.1L611.8,108.8L612.3,106.5L612.9,112.7L613.4,114.2L614.0,106.7L614.5,114.6L615.0,118.8L615.6,106.2L616.1,113.1L616.7,111.3L617.2,115.6L617.7,115.3L618.3,114.5L618.8,111.3L619.3,108.4L619.9,118.9L620.4,106.8L621.0,114.4L621.5,113.8" fill="none" stroke="#1f77b4" stroke-width="3.5"/>
<path d="M137.1,364.9L185.5,212.7L234.0,185.0L282.4,153.3L330.9,144.2L379.3,134.8L427.7,124.4L476.2,110.2L524.6,104.0L573.1,103.7L621.5,108.2" fill="none" stroke="#1f77b4" stroke-width="3"/>
</g>
<circle cx="137.1" cy="364.9" r="5.9" fill="#000" stroke="#1f77b4" stroke-width="1.3"/>
<circle cx="185.5" cy="212.7" r="5.9" fill="#000" stroke="#1f77b4" stroke-width="1.3"/>
<circle cx="234.0" cy="185.0" r="5.9" fill="#000" stroke="#1f77b4" stroke-width="1.3"/>
<circle cx="282.4" cy="153.3" r="5.9" fill="#000" stroke="#1f77b4" stroke-width="1.3"/>
<circle cx="330.9" cy="144.2" r="5.9" fill="#000" stroke="#1f77b4" stroke-width="1.3"/>
<circle cx="379.3" cy="134.8" r="5.9" fill="#000" stroke="#1f77b4" stroke-width="1.3"/>
<circle cx="427.7" cy="124.4" r="5.9" fill="#000" stroke="#1f77b4" stroke-width="1.3"/>
<circle cx="476.2" cy="110.2" r="5.9" fill="#000" stroke="#1f77b4" stroke-width="1.3"/>
<circle cx="524.6" cy="104.0" r="5.9" fill="#000" stroke="#1f77b4" stroke-width="1.3"/>
<circle cx="573.1" cy="103.7" r="5.9" fill="#000" stroke="#1f77b4" stroke-width="1.3"/>
<circle cx="621.5" cy="108.2" r="5.9" fill="#000" stroke="#1f77b4" stroke-width="1.3"/>
<path d="M137.1,364.9L185.5,232.2L234.0,219.4L282.4,197.6L330.9,188.2L379.3,174.1L427.7,153.4L476.2,142.2L524.6,135.4L573.1,135.4L621.5,135.4" fill="none" stroke="#ff7f0e" stroke-width="3" stroke-linejoin="round"/>
<circle cx="137.1" cy="364.9" r="6.7" fill="#ff7f0e"/>
<circle cx="185.5" cy="232.2" r="6.7" fill="#ff7f0e"/>
<circle cx="234.0" cy="219.4" r="6.7" fill="#ff7f0e"/>
<circle cx="282.4" cy="197.6" r="6.7" fill="#ff7f0e"/>
<circle cx="330.9" cy="188.2" r="6.7" fill="#ff7f0e"/>
<circle cx="379.3" cy="174.1" r="6.7" fill="#ff7f0e"/>
<circle cx="427.7" cy="153.4" r="6.7" fill="#ff7f0e"/>
<circle cx="476.2" cy="142.2" r="6.7" fill="#ff7f0e"/>
<circle cx="524.6" cy="135.4" r="6.7" fill="#ff7f0e"/>
<circle cx="573.1" cy="135.4" r="6.7" fill="#ff7f0e"/>
<circle cx="621.5" cy="135.4" r="6.7" fill="#ff7f0e"/>
<path d="M113,26.7V379.9H646" fill="none" stroke="#262626" stroke-width="2" stroke-linecap="butt" stroke-linejoin="miter"/>
<text class="tick" x="106.8" y="374.4" text-anchor="end" letter-spacing="-0.4">0</text>
<text class="tick" x="106.8" y="290.1" text-anchor="end" letter-spacing="-0.4">100</text>
<text class="tick" x="106.8" y="205.9" text-anchor="end" letter-spacing="-0.4">200</text>
<text class="tick" x="106.8" y="121.6" text-anchor="end" letter-spacing="-0.4">300</text>
<text class="tick" x="106.8" y="37.4" text-anchor="end" letter-spacing="-0.4">400</text>
<text class="tick" x="136.7" y="405" text-anchor="middle" letter-spacing="-0.7">0.0</text>
<text class="tick" x="233.6" y="405" text-anchor="middle" letter-spacing="-0.7">0.2</text>
<text class="tick" x="330.5" y="405" text-anchor="middle" letter-spacing="-0.7">0.4</text>
<text class="tick" x="427.3" y="405" text-anchor="middle" letter-spacing="-0.7">0.6</text>
<text class="tick" x="524.2" y="405" text-anchor="middle" letter-spacing="-0.7">0.8</text>
<text class="tick" x="621.1" y="405" text-anchor="middle" letter-spacing="-0.7">1.0</text>
<text class="lab" x="379.6" y="436.2" text-anchor="middle" letter-spacing="-0.19">Time steps (1e6)</text>
<text class="lab" transform="translate(49,203.7) rotate(-90)" text-anchor="middle" letter-spacing="-0.25">Average Value</text>
<rect x="276.8" y="282.9" width="32.5" height="16.8" fill="#1f77b4"/>
<rect x="276.8" y="326.6" width="32.5" height="16.8" fill="#ff7f0e"/>
<text class="leg" x="317.7" y="301.5">CDQ</text>
<text class="leg" x="317.7" y="345.2">DDPG</text>
<path d="M420.2,292.8H453.3" stroke="#1f77b4" stroke-width="3"/><circle cx="436.7" cy="292.8" r="5.9" fill="#000" stroke="#1f77b4" stroke-width="1.3"/>
<path d="M420.2,336.6H453.3" stroke="#ff7f0e" stroke-width="3"/><circle cx="436.7" cy="336.6" r="6.7" fill="#ff7f0e"/>
<text class="leg" x="462.3" y="301.5" letter-spacing="-0.15" word-spacing="-1.4">True CDQ</text>
<text class="leg" x="462.3" y="345.2" letter-spacing="-0.15" word-spacing="-1.4">True DDPG</text>
</svg></body></html>
